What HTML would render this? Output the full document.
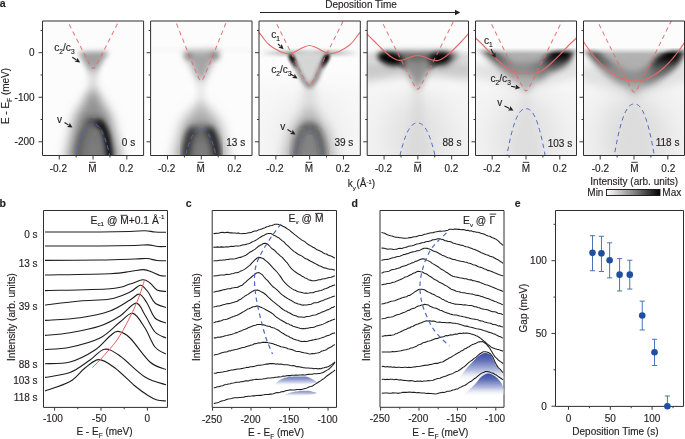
<!DOCTYPE html>
<html><head><meta charset="utf-8"><style>html,body{margin:0;padding:0;background:#fff;width:685px;height:439px;overflow:hidden}svg text{font-family:'Liberation Sans',sans-serif;stroke:#231f20;stroke-width:0.15px} svg{will-change:transform}</style></head>
<body><svg width="685" height="439" viewBox="0 0 685 439" style="display:block;font-family:'Liberation Sans',sans-serif"><defs><linearGradient id="hz" x1="0" y1="0" x2="0" y2="1"><stop offset="0" stop-color="#f2f2f2" stop-opacity="0"/><stop offset="0.3" stop-color="#f2f2f2"/><stop offset="1" stop-color="#efefef"/></linearGradient><clipPath id="clipa0"><rect x="42.5" y="21.0" width="101.2" height="134.5"/></clipPath><filter id="bl0" x="-50%" y="-50%" width="200%" height="200%"><feGaussianBlur stdDeviation="2.8"/></filter><filter id="bl1" x="-50%" y="-50%" width="200%" height="200%"><feGaussianBlur stdDeviation="3.5"/></filter><filter id="bl2" x="-50%" y="-50%" width="200%" height="200%"><feGaussianBlur stdDeviation="5.5"/></filter><filter id="bl3" x="-50%" y="-50%" width="200%" height="200%"><feGaussianBlur stdDeviation="3"/></filter><filter id="bl4" x="-50%" y="-50%" width="200%" height="200%"><feGaussianBlur stdDeviation="2.6"/></filter><filter id="bl5" x="-50%" y="-50%" width="200%" height="200%"><feGaussianBlur stdDeviation="2.5"/></filter><filter id="bl6" x="-50%" y="-50%" width="200%" height="200%"><feGaussianBlur stdDeviation="4"/></filter><clipPath id="clipa1"><rect x="150.5" y="21.0" width="101.2" height="134.5"/></clipPath><filter id="bl7" x="-50%" y="-50%" width="200%" height="200%"><feGaussianBlur stdDeviation="1.8"/></filter><filter id="bl8" x="-50%" y="-50%" width="200%" height="200%"><feGaussianBlur stdDeviation="6"/></filter><clipPath id="clipa2"><rect x="258.7" y="21.0" width="101.2" height="134.5"/></clipPath><filter id="bl9" x="-50%" y="-50%" width="200%" height="200%"><feGaussianBlur stdDeviation="12"/></filter><linearGradient id="g3b" gradientUnits="userSpaceOnUse" x1="258" y1="0" x2="361" y2="0"><stop offset="0" stop-color="#fff"/><stop offset="0.3" stop-color="#999"/><stop offset="0.5" stop-color="#ccc"/><stop offset="0.7" stop-color="#999"/><stop offset="1" stop-color="#fff"/></linearGradient><filter id="bl10" x="-50%" y="-50%" width="200%" height="200%"><feGaussianBlur stdDeviation="2"/></filter><filter id="bl11" x="-50%" y="-50%" width="200%" height="200%"><feGaussianBlur stdDeviation="1.7"/></filter><clipPath id="clipa3"><rect x="367.0" y="21.0" width="101.2" height="134.5"/></clipPath><filter id="bl12" x="-50%" y="-50%" width="200%" height="200%"><feGaussianBlur stdDeviation="5"/></filter><filter id="bl13" x="-50%" y="-50%" width="200%" height="200%"><feGaussianBlur stdDeviation="2.2"/></filter><clipPath id="clipa4"><rect x="475.4" y="21.0" width="101.2" height="134.5"/></clipPath><linearGradient id="fm" x1="0" y1="0" x2="0" y2="1" gradientUnits="userSpaceOnUse" gradientTransform="scale(1,1)"><stop offset="0" stop-color="#000"/></linearGradient><linearGradient id="fedge" gradientUnits="userSpaceOnUse" x1="0" y1="47.6" x2="0" y2="54"><stop offset="0" stop-color="#000"/><stop offset="1" stop-color="#fff"/></linearGradient><mask id="fmask" maskUnits="userSpaceOnUse" x="0" y="0" width="685" height="200"><rect x="0" y="0" width="685" height="200" fill="url(#fedge)"/></mask><linearGradient id="g5" gradientUnits="userSpaceOnUse" x1="475" y1="0" x2="577" y2="0"><stop offset="0" stop-color="#4a4a4a"/><stop offset="0.25" stop-color="#505050"/><stop offset="0.5" stop-color="#505050"/><stop offset="0.68" stop-color="#1a1a1a"/><stop offset="0.8" stop-color="#000"/><stop offset="1" stop-color="#111"/></linearGradient><linearGradient id="pk" x1="0" y1="0" x2="0" y2="1"><stop offset="0" stop-color="#d0d0d0"/><stop offset="1" stop-color="#929292"/></linearGradient><filter id="bl14" x="-50%" y="-50%" width="200%" height="200%"><feGaussianBlur stdDeviation="3.4"/></filter><clipPath id="clipa5"><rect x="583.5" y="21.0" width="101.2" height="134.5"/></clipPath><linearGradient id="g6" gradientUnits="userSpaceOnUse" x1="583" y1="0" x2="685" y2="0"><stop offset="0" stop-color="#4a4a4a"/><stop offset="0.3" stop-color="#505050"/><stop offset="0.55" stop-color="#505050"/><stop offset="0.7" stop-color="#1a1a1a"/><stop offset="0.82" stop-color="#000"/><stop offset="1" stop-color="#111"/></linearGradient><linearGradient id="cbar" x1="0" x2="1" y1="0" y2="0"><stop offset="0" stop-color="#fff"/><stop offset="0.5" stop-color="#888"/><stop offset="1" stop-color="#000"/></linearGradient><linearGradient id="bfill" x1="0" y1="0" x2="0" y2="1"><stop offset="0" stop-color="#3c4ea5"/><stop offset="0.25" stop-color="#5d6db5"/><stop offset="0.6" stop-color="#b4bcdf"/><stop offset="1" stop-color="#ffffff" stop-opacity="0"/></linearGradient><filter id="bl15" x="-50%" y="-50%" width="200%" height="200%"><feGaussianBlur stdDeviation="0.6"/></filter><clipPath id="eclip"><rect x="555.5" y="210.5" width="128" height="195.9"/></clipPath></defs><g clip-path="url(#clipa0)"><rect x="42.5" y="21.0" width="101.2" height="134.5" fill="#fcfcfc"/><path d="M78.00,52.00 C80.50,51.92 88.00,51.50 93.00,51.50 C98.00,51.50 106.33,50.42 108.00,52.00 C109.67,53.58 105.00,57.67 103.00,61.00 C101.00,64.33 98.17,70.17 96.00,72.00 C93.83,73.83 92.17,73.83 90.00,72.00 C87.83,70.17 85.00,64.33 83.00,61.00 C81.00,57.67 78.83,53.50 78.00,52.00Z" fill="#969696" fill-opacity="0.9" filter="url(#bl0)" /><path d="M88.00,68.00 L98.00,68.00 L96.00,84.00 L100.00,100.00 L86.00,100.00 L90.00,84.00Z" fill="#cfcfcf" fill-opacity="0.9" filter="url(#bl1)" /><path d="M90.00,92.00 L96.00,92.00 L111.00,116.00 L122.00,162.00 L65.00,162.00 L75.00,116.00Z" fill="#7c7c7c" fill-opacity="0.85" filter="url(#bl2)" /><path d="M76.00,160.00 C76.50,156.67 77.33,145.50 79.00,140.00 C80.67,134.50 83.67,129.83 86.00,127.00 C88.33,124.17 90.67,123.00 93.00,123.00 C95.33,123.00 97.67,124.17 100.00,127.00 C102.33,129.83 105.33,134.50 107.00,140.00 C108.67,145.50 109.50,156.67 110.00,160.00Z" fill="#757575" fill-opacity="0.95" filter="url(#bl3)" /><ellipse cx="94.0" cy="121" rx="11" ry="5" fill="#555" fill-opacity="0.55" filter="url(#bl3)" transform="rotate(0 94.0 121)"/><path d="M97.00,122.00 C98.00,122.83 101.42,124.67 103.00,127.00 C104.58,129.33 105.58,132.67 106.50,136.00 C107.42,139.33 107.92,143.00 108.50,147.00 C109.08,151.00 109.75,157.83 110.00,160.00" fill="none" stroke="#000" stroke-width="6.5" stroke-opacity="0.95" filter="url(#bl4)"/><path d="M91.00,121.00 C92.00,121.17 95.17,121.17 97.00,122.00 C98.83,122.83 101.17,125.33 102.00,126.00" fill="none" stroke="#222" stroke-width="4" stroke-opacity="0.6" filter="url(#bl5)"/><path d="M94.00,121.00 C92.83,121.67 89.00,122.83 87.00,125.00 C85.00,127.17 83.33,130.50 82.00,134.00 C80.67,137.50 79.83,141.67 79.00,146.00 C78.17,150.33 77.33,157.67 77.00,160.00" fill="none" stroke="#3a3a3a" stroke-width="5.5" stroke-opacity="0.6" filter="url(#bl3)"/><ellipse cx="94.0" cy="150" rx="6" ry="8" fill="#8a8a8a" fill-opacity="0.5" filter="url(#bl6)" transform="rotate(0 94.0 150)"/></g><g clip-path="url(#clipa0)"><path d="M65.55,17.04 L66.47,18.86 L67.39,20.69 L68.32,22.52 L69.24,24.34 L70.16,26.17 L71.08,27.99 L72.00,29.82 L72.92,31.64 L73.85,33.46 L74.77,35.29 L75.69,37.11 L76.61,38.93 L77.53,40.75 L78.45,42.57 L79.38,44.38 L80.30,46.20 L81.22,48.01 L82.14,49.82 L83.06,51.62 L83.98,53.42 L84.91,55.22 L85.83,57.00 L86.75,58.77 L87.67,60.52 L88.59,62.25 L89.51,63.93 L90.44,65.52 L91.36,66.96 L92.28,68.06 L93.20,68.50 L94.12,68.06 L95.04,66.96 L95.97,65.52 L96.89,63.93 L97.81,62.25 L98.73,60.52 L99.65,58.77 L100.57,57.00 L101.50,55.22 L102.42,53.42 L103.34,51.62 L104.26,49.82 L105.18,48.01 L106.10,46.20 L107.03,44.38 L107.95,42.57 L108.87,40.75 L109.79,38.93 L110.71,37.11 L111.63,35.29 L112.56,33.46 L113.48,31.64 L114.40,29.82 L115.32,27.99 L116.24,26.17 L117.16,24.34 L118.09,22.52 L119.01,20.69 L119.93,18.86 L120.85,17.04" fill="none" stroke="#e36c6a" stroke-width="1.05" stroke-dasharray="4.5 3.6" stroke-linejoin="round" stroke-opacity="0.9"/><path d="M74.52,163.22 L75.26,159.71 L76.00,156.38 L76.74,153.23 L77.48,150.26 L78.22,147.48 L78.96,144.86 L79.69,142.42 L80.43,140.15 L81.17,138.05 L81.91,136.11 L82.65,134.34 L83.39,132.72 L84.13,131.25 L84.87,129.94 L85.61,128.77 L86.35,127.74 L87.09,126.85 L87.83,126.10 L88.56,125.47 L89.30,124.97 L90.04,124.58 L90.78,124.30 L91.52,124.12 L92.26,124.02 L93.00,124.00 L93.74,124.02 L94.48,124.12 L95.22,124.30 L95.96,124.58 L96.70,124.97 L97.44,125.47 L98.17,126.10 L98.91,126.85 L99.65,127.74 L100.39,128.77 L101.13,129.94 L101.87,131.25 L102.61,132.72 L103.35,134.34 L104.09,136.11 L104.83,138.05 L105.57,140.15 L106.31,142.42 L107.04,144.86 L107.78,147.48 L108.52,150.26 L109.26,153.23 L110.00,156.38 L110.74,159.71 L111.48,163.22" fill="none" stroke="#5069bd" stroke-width="1.0" stroke-dasharray="4.5 3.6"/></g><g clip-path="url(#clipa1)"><rect x="150.5" y="21.0" width="101.2" height="134.5" fill="#fcfcfc"/><rect x="150.5" y="48.5" width="101.2" height="4" fill="#e4e4e4" opacity="0.15" filter="url(#bl7)"/><path d="M184.00,51.00 C186.83,50.92 195.17,50.50 201.00,50.50 C206.83,50.50 217.00,49.08 219.00,51.00 C221.00,52.92 215.50,57.17 213.00,62.00 C210.50,66.83 206.00,76.33 204.00,80.00 C202.00,83.67 202.00,84.00 201.00,84.00 C200.00,84.00 200.00,83.67 198.00,80.00 C196.00,76.33 191.33,66.83 189.00,62.00 C186.67,57.17 184.83,52.83 184.00,51.00Z" fill="#8e8e8e" fill-opacity="0.8" filter="url(#bl1)" /><ellipse cx="188.0" cy="56" rx="4.5" ry="4" fill="#555" fill-opacity="0.45" filter="url(#bl5)" transform="rotate(0 188.0 56)"/><ellipse cx="215.0" cy="56" rx="4.5" ry="4" fill="#555" fill-opacity="0.5" filter="url(#bl5)" transform="rotate(0 215.0 56)"/><path d="M198.00,80.00 L204.00,80.00 L205.00,110.00 L197.00,110.00Z" fill="#e4e4e4" fill-opacity="0.9" filter="url(#bl3)" /><path d="M198.00,104.00 L204.00,104.00 L220.00,122.00 L230.00,162.00 L172.00,162.00 L182.00,122.00Z" fill="#a0a0a0" fill-opacity="0.85" filter="url(#bl8)" /><path d="M184.00,160.00 C184.50,156.67 185.50,145.33 187.00,140.00 C188.50,134.67 190.67,130.67 193.00,128.00 C195.33,125.33 198.33,124.00 201.00,124.00 C203.67,124.00 206.67,125.33 209.00,128.00 C211.33,130.67 213.50,134.67 215.00,140.00 C216.50,145.33 217.50,156.67 218.00,160.00Z" fill="#555" fill-opacity="0.9" filter="url(#bl6)" /><path d="M191.00,160.00 C191.33,157.50 192.00,149.00 193.00,145.00 C194.00,141.00 195.67,137.83 197.00,136.00 C198.33,134.17 199.67,134.00 201.00,134.00 C202.33,134.00 203.67,134.17 205.00,136.00 C206.33,137.83 208.00,141.00 209.00,145.00 C210.00,149.00 210.67,157.50 211.00,160.00Z" fill="#7a7a7a" fill-opacity="0.8" filter="url(#bl1)" /><path d="M208.00,128.00 C208.67,128.83 210.83,130.83 212.00,133.00 C213.17,135.17 214.25,138.17 215.00,141.00 C215.75,143.83 216.00,146.83 216.50,150.00 C217.00,153.17 217.75,158.33 218.00,160.00" fill="none" stroke="#000" stroke-width="6.5" stroke-opacity="0.9" filter="url(#bl3)"/><path d="M194.00,128.00 C193.33,128.83 191.08,130.83 190.00,133.00 C188.92,135.17 188.17,138.17 187.50,141.00 C186.83,143.83 186.42,146.83 186.00,150.00 C185.58,153.17 185.17,158.33 185.00,160.00" fill="none" stroke="#000" stroke-width="6" stroke-opacity="0.75" filter="url(#bl3)"/><ellipse cx="202.0" cy="152" rx="7" ry="8" fill="#8a8a8a" fill-opacity="0.5" filter="url(#bl6)" transform="rotate(0 202.0 152)"/></g><g clip-path="url(#clipa1)"><path d="M173.45,15.99 L174.37,18.30 L175.29,20.61 L176.21,22.91 L177.14,25.22 L178.06,27.53 L178.98,29.83 L179.90,32.14 L180.82,34.44 L181.75,36.74 L182.67,39.05 L183.59,41.35 L184.51,43.65 L185.43,45.94 L186.35,48.24 L187.28,50.54 L188.20,52.83 L189.12,55.12 L190.04,57.40 L190.96,59.68 L191.88,61.95 L192.81,64.22 L193.73,66.47 L194.65,68.71 L195.57,70.92 L196.49,73.10 L197.41,75.22 L198.33,77.24 L199.26,79.05 L200.18,80.44 L201.10,81.00 L202.02,80.44 L202.94,79.05 L203.87,77.24 L204.79,75.22 L205.71,73.10 L206.63,70.92 L207.55,68.71 L208.47,66.47 L209.39,64.22 L210.32,61.95 L211.24,59.68 L212.16,57.40 L213.08,55.12 L214.00,52.83 L214.93,50.54 L215.85,48.24 L216.77,45.94 L217.69,43.65 L218.61,41.35 L219.53,39.05 L220.45,36.74 L221.38,34.44 L222.30,32.14 L223.22,29.83 L224.14,27.53 L225.06,25.22 L225.99,22.91 L226.91,20.61 L227.83,18.30 L228.75,15.99" fill="none" stroke="#e36c6a" stroke-width="1.05" stroke-dasharray="4.5 3.6" stroke-linejoin="round" stroke-opacity="0.9"/><path d="M184.07,162.07 L184.74,159.08 L185.42,156.25 L186.09,153.57 L186.76,151.04 L187.44,148.67 L188.11,146.45 L188.78,144.37 L189.46,142.44 L190.13,140.66 L190.80,139.01 L191.48,137.49 L192.15,136.12 L192.82,134.87 L193.49,133.75 L194.17,132.76 L194.84,131.88 L195.51,131.13 L196.19,130.49 L196.86,129.95 L197.53,129.52 L198.21,129.19 L198.88,128.95 L199.55,128.80 L200.23,128.72 L200.90,128.70 L201.57,128.72 L202.25,128.80 L202.92,128.95 L203.59,129.19 L204.27,129.52 L204.94,129.95 L205.61,130.49 L206.29,131.13 L206.96,131.88 L207.63,132.76 L208.31,133.75 L208.98,134.87 L209.65,136.12 L210.32,137.49 L211.00,139.01 L211.67,140.66 L212.34,142.44 L213.02,144.37 L213.69,146.45 L214.36,148.67 L215.04,151.04 L215.71,153.57 L216.38,156.25 L217.06,159.08 L217.73,162.07" fill="none" stroke="#5069bd" stroke-width="1.0" stroke-dasharray="4.5 3.6"/></g><g clip-path="url(#clipa2)"><rect x="258.7" y="21.0" width="101.2" height="134.5" fill="#fcfcfc"/><rect x="258.7" y="70" width="101.2" height="85.5" fill="url(#hz)" opacity="0.5"/><ellipse cx="309.3" cy="135" rx="34" ry="40" fill="#e4e4e4" fill-opacity="0.5" filter="url(#bl9)" transform="rotate(0 309.3 135)"/><rect x="253.7" y="50.5" width="111.2" height="5" fill="url(#g3b)" opacity="0.75" filter="url(#bl7)"/><path d="M291.30,52.00 L327.30,52.00 L309.30,90.00Z" fill="#cfcfcf" fill-opacity="0.85" filter="url(#bl3)" /><path d="M291.30,56.00 C292.13,57.67 294.30,62.00 296.30,66.00 C298.30,70.00 301.13,76.33 303.30,80.00 C305.47,83.67 308.30,86.67 309.30,88.00" fill="none" stroke="#333" stroke-width="3.2" stroke-opacity="0.75" filter="url(#bl10)"/><path d="M326.30,56.00 C325.47,57.67 323.13,62.00 321.30,66.00 C319.47,70.00 317.30,76.33 315.30,80.00 C313.30,83.67 310.30,86.67 309.30,88.00" fill="none" stroke="#2a2a2a" stroke-width="3.2" stroke-opacity="0.8" filter="url(#bl10)"/><ellipse cx="292.0" cy="58.5" rx="2.5" ry="5" fill="#000" fill-opacity="0.95" filter="url(#bl11)" transform="rotate(-28 292.0 58.5)"/><ellipse cx="326.3" cy="58.5" rx="2.7" ry="5.2" fill="#000" fill-opacity="1" filter="url(#bl11)" transform="rotate(28 326.3 58.5)"/><ellipse cx="294.3" cy="64" rx="2" ry="4" fill="#333" fill-opacity="0.7" filter="url(#bl7)" transform="rotate(-28 294.3 64)"/><ellipse cx="323.8" cy="64" rx="2" ry="4" fill="#222" fill-opacity="0.75" filter="url(#bl7)" transform="rotate(28 323.8 64)"/><path d="M303.30,86.00 L315.30,86.00 L317.30,118.00 L301.30,118.00Z" fill="#d8d8d8" fill-opacity="0.8" filter="url(#bl6)" /><path d="M305.30,110.00 L313.30,110.00 L328.30,130.00 L336.30,162.00 L282.30,162.00 L290.30,130.00Z" fill="#a8a8a8" fill-opacity="0.85" filter="url(#bl8)" /><path d="M294.30,160.00 C294.80,156.67 295.80,145.33 297.30,140.00 C298.80,134.67 301.30,130.50 303.30,128.00 C305.30,125.50 307.30,125.00 309.30,125.00 C311.30,125.00 313.30,125.50 315.30,128.00 C317.30,130.50 319.80,134.67 321.30,140.00 C322.80,145.33 323.80,156.67 324.30,160.00Z" fill="#7a7a7a" fill-opacity="0.85" filter="url(#bl6)" /><ellipse cx="309.3" cy="126.5" rx="8" ry="4.5" fill="#444" fill-opacity="0.6" filter="url(#bl3)" transform="rotate(0 309.3 126.5)"/><path d="M314.30,128.00 C314.97,128.83 317.13,130.67 318.30,133.00 C319.47,135.33 320.55,139.17 321.30,142.00 C322.05,144.83 322.30,147.00 322.80,150.00 C323.30,153.00 324.05,158.33 324.30,160.00" fill="none" stroke="#1a1a1a" stroke-width="5" stroke-opacity="0.65" filter="url(#bl3)"/><path d="M304.30,128.00 C303.63,128.83 301.47,130.67 300.30,133.00 C299.13,135.33 298.05,139.17 297.30,142.00 C296.55,144.83 296.30,147.00 295.80,150.00 C295.30,153.00 294.55,158.33 294.30,160.00" fill="none" stroke="#1a1a1a" stroke-width="5" stroke-opacity="0.6" filter="url(#bl3)"/><ellipse cx="309.3" cy="152" rx="5" ry="7" fill="#8a8a8a" fill-opacity="0.4" filter="url(#bl6)" transform="rotate(0 309.3 152)"/></g><g clip-path="url(#clipa2)"><path d="M273.20,17.00 L274.40,19.40 L275.60,21.80 L276.80,24.20 L278.00,26.60 L279.20,29.00 L280.40,31.40 L281.60,33.80 L282.80,36.20 L284.00,38.60 L285.20,40.99 L286.40,43.39 L287.60,45.79 L288.80,48.18 L290.00,50.57 L291.20,52.97 L292.40,55.36 L293.60,57.75 L294.80,60.13 L296.00,62.52 L297.20,64.90 L298.40,67.27 L299.60,69.64 L300.80,72.00 L302.00,74.34 L303.20,76.66 L304.40,78.94 L305.60,81.14 L306.80,83.20 L308.00,84.87 L309.20,85.60 L310.40,84.87 L311.60,83.20 L312.80,81.14 L314.00,78.94 L315.20,76.66 L316.40,74.34 L317.60,72.00 L318.80,69.64 L320.00,67.27 L321.20,64.90 L322.40,62.52 L323.60,60.13 L324.80,57.75 L326.00,55.36 L327.20,52.97 L328.40,50.57 L329.60,48.18 L330.80,45.79 L332.00,43.39 L333.20,40.99 L334.40,38.60 L335.60,36.20 L336.80,33.80 L338.00,31.40 L339.20,29.00 L340.40,26.60 L341.60,24.20 L342.80,21.80 L344.00,19.40 L345.20,17.00" fill="none" stroke="#e36c6a" stroke-width="1.05" stroke-dasharray="4.5 3.6" stroke-linejoin="round" stroke-opacity="0.9"/><path d="M256.50,29.00 C257.00,29.70 258.58,32.02 259.50,33.20 C260.42,34.38 261.00,34.80 262.00,36.10 C263.00,37.40 264.17,39.43 265.50,41.00 C266.83,42.57 268.42,44.20 270.00,45.50 C271.58,46.80 273.33,47.80 275.00,48.80 C276.67,49.80 278.42,50.80 280.00,51.50 C281.58,52.20 283.08,52.63 284.50,53.00 C285.92,53.37 287.17,53.70 288.50,53.70 C289.83,53.70 291.00,53.53 292.50,53.00 C294.00,52.47 295.67,51.45 297.50,50.50 C299.33,49.55 301.50,48.13 303.50,47.30 C305.50,46.47 307.50,45.50 309.50,45.50 C311.50,45.50 313.50,46.47 315.50,47.30 C317.50,48.13 319.67,49.55 321.50,50.50 C323.33,51.45 325.00,52.47 326.50,53.00 C328.00,53.53 329.17,53.70 330.50,53.70 C331.83,53.70 333.08,53.37 334.50,53.00 C335.92,52.63 337.42,52.20 339.00,51.50 C340.58,50.80 342.33,49.80 344.00,48.80 C345.67,47.80 347.42,46.80 349.00,45.50 C350.58,44.20 352.17,42.57 353.50,41.00 C354.83,39.43 356.00,37.40 357.00,36.10 C358.00,34.80 358.58,34.38 359.50,33.20 C360.42,32.02 362.00,29.70 362.50,29.00" fill="none" stroke="#e36c6a" stroke-width="1.1"/><path d="M293.49,160.94 L294.11,158.46 L294.73,156.12 L295.35,153.90 L295.97,151.81 L296.59,149.84 L297.21,148.00 L297.83,146.28 L298.45,144.68 L299.07,143.20 L299.69,141.84 L300.31,140.58 L300.93,139.44 L301.56,138.41 L302.18,137.48 L302.80,136.66 L303.42,135.94 L304.04,135.31 L304.66,134.78 L305.28,134.34 L305.90,133.98 L306.52,133.71 L307.14,133.51 L307.76,133.38 L308.38,133.32 L309.00,133.30 L309.62,133.32 L310.24,133.38 L310.86,133.51 L311.48,133.71 L312.10,133.98 L312.72,134.34 L313.34,134.78 L313.96,135.31 L314.58,135.94 L315.20,136.66 L315.82,137.48 L316.44,138.41 L317.07,139.44 L317.69,140.58 L318.31,141.84 L318.93,143.20 L319.55,144.68 L320.17,146.28 L320.79,148.00 L321.41,149.84 L322.03,151.81 L322.65,153.90 L323.27,156.12 L323.89,158.46 L324.51,160.94" fill="none" stroke="#5069bd" stroke-width="1.0" stroke-dasharray="4.5 3.6"/></g><g clip-path="url(#clipa3)"><rect x="367.0" y="21.0" width="101.2" height="134.5" fill="#fcfcfc"/><rect x="367.0" y="70" width="101.2" height="85.5" fill="url(#hz)" opacity="0.8"/><ellipse cx="417.6" cy="135" rx="34" ry="40" fill="#e0e0e0" fill-opacity="0.8" filter="url(#bl9)" transform="rotate(0 417.6 135)"/><rect x="357.0" y="52" width="121.2" height="8" fill="#c4c4c4" opacity="0.5" filter="url(#bl5)"/><path d="M362.00,60.00 L397.60,60.00 L417.60,66.00 L437.60,60.00 L473.20,60.00 L473.20,80.00 L417.60,74.00 L362.00,82.00Z" fill="#b4b4b4" fill-opacity="0.7" filter="url(#bl12)" /><path d="M375.60,54.00 C379.27,53.58 390.60,51.92 397.60,51.50 C404.60,51.08 410.93,51.50 417.60,51.50 C424.27,51.50 430.93,51.08 437.60,51.50 C444.27,51.92 456.27,51.58 457.60,54.00 C458.93,56.42 450.60,64.33 445.60,66.00 C440.60,67.67 432.27,63.67 427.60,64.00 C422.93,64.33 420.93,68.00 417.60,68.00 C414.27,68.00 412.27,64.33 407.60,64.00 C402.93,63.67 394.93,67.67 389.60,66.00 C384.27,64.33 377.93,56.00 375.60,54.00Z" fill="#5a5a5a" fill-opacity="0.9" filter="url(#bl3)" /><ellipse cx="390.6" cy="58.3" rx="12.5" ry="5.8" fill="#000" fill-opacity="1" filter="url(#bl0)" transform="rotate(12 390.6 58.3)"/><ellipse cx="439.1" cy="58.3" rx="11.5" ry="5.8" fill="#000" fill-opacity="1" filter="url(#bl0)" transform="rotate(-10 439.1 58.3)"/><ellipse cx="403.1" cy="64" rx="5.5" ry="3" fill="#111" fill-opacity="0.8" filter="url(#bl13)" transform="rotate(38 403.1 64)"/><ellipse cx="431.6" cy="64" rx="5.5" ry="3" fill="#111" fill-opacity="0.8" filter="url(#bl13)" transform="rotate(-38 431.6 64)"/><path d="M400.60,60.00 L434.60,60.00 L417.60,92.00Z" fill="#858585" fill-opacity="0.85" filter="url(#bl1)" /><path d="M414.60,92.00 L420.60,92.00 L431.60,160.00 L403.60,160.00Z" fill="#d8d8d8" fill-opacity="0.8" filter="url(#bl6)" /></g><g clip-path="url(#clipa3)"><path d="M379.50,17.03 L380.77,19.55 L382.04,22.07 L383.31,24.59 L384.58,27.12 L385.85,29.64 L387.12,32.16 L388.39,34.68 L389.66,37.20 L390.93,39.72 L392.20,42.24 L393.47,44.76 L394.74,47.28 L396.01,49.80 L397.28,52.31 L398.55,54.83 L399.82,57.34 L401.09,59.85 L402.36,62.36 L403.63,64.87 L404.90,67.37 L406.17,69.87 L407.44,72.36 L408.71,74.84 L409.98,77.31 L411.25,79.75 L412.52,82.16 L413.79,84.50 L415.06,86.69 L416.33,88.50 L417.60,89.30 L418.87,88.50 L420.14,86.69 L421.41,84.50 L422.68,82.16 L423.95,79.75 L425.22,77.31 L426.49,74.84 L427.76,72.36 L429.03,69.87 L430.30,67.37 L431.57,64.87 L432.84,62.36 L434.11,59.85 L435.38,57.34 L436.65,54.83 L437.92,52.31 L439.19,49.80 L440.46,47.28 L441.73,44.76 L443.00,42.24 L444.27,39.72 L445.54,37.20 L446.81,34.68 L448.08,32.16 L449.35,29.64 L450.62,27.12 L451.89,24.59 L453.16,22.07 L454.43,19.55 L455.70,17.03" fill="none" stroke="#e36c6a" stroke-width="1.05" stroke-dasharray="4.5 3.6" stroke-linejoin="round" stroke-opacity="0.9"/><path d="M366.00,33.00 C367.33,34.33 371.33,38.33 374.00,41.00 C376.67,43.67 379.33,46.50 382.00,49.00 C384.67,51.50 387.50,54.17 390.00,56.00 C392.50,57.83 394.83,59.33 397.00,60.00 C399.17,60.67 400.83,60.45 403.00,60.00 C405.17,59.55 407.57,58.05 410.00,57.30 C412.43,56.55 415.10,55.50 417.60,55.50 C420.10,55.50 422.60,56.55 425.00,57.30 C427.40,58.05 429.83,59.47 432.00,60.00 C434.17,60.53 435.83,61.00 438.00,60.50 C440.17,60.00 442.50,58.75 445.00,57.00 C447.50,55.25 450.33,52.50 453.00,50.00 C455.67,47.50 458.33,44.83 461.00,42.00 C463.67,39.17 467.67,34.50 469.00,33.00" fill="none" stroke="#e36c6a" stroke-width="1.1"/><path d="M398.25,163.47 L399.02,159.84 L399.79,156.40 L400.56,153.16 L401.33,150.10 L402.10,147.22 L402.87,144.53 L403.64,142.01 L404.41,139.67 L405.18,137.50 L405.95,135.50 L406.72,133.66 L407.49,131.99 L408.26,130.48 L409.03,129.12 L409.80,127.92 L410.57,126.86 L411.34,125.94 L412.11,125.17 L412.88,124.52 L413.65,124.00 L414.42,123.60 L415.19,123.31 L415.96,123.12 L416.73,123.02 L417.50,123.00 L418.27,123.02 L419.04,123.12 L419.81,123.31 L420.58,123.60 L421.35,124.00 L422.12,124.52 L422.89,125.17 L423.66,125.94 L424.43,126.86 L425.20,127.92 L425.97,129.12 L426.74,130.48 L427.51,131.99 L428.28,133.66 L429.05,135.50 L429.82,137.50 L430.59,139.67 L431.36,142.01 L432.13,144.53 L432.90,147.22 L433.67,150.10 L434.44,153.16 L435.21,156.40 L435.98,159.84 L436.75,163.47" fill="none" stroke="#5069bd" stroke-width="1.0" stroke-dasharray="4.5 3.6"/></g><g clip-path="url(#clipa4)"><rect x="475.4" y="21.0" width="101.2" height="134.5" fill="#fcfcfc"/><rect x="475.4" y="70" width="101.2" height="85.5" fill="url(#hz)" opacity="0.8"/><ellipse cx="526.0" cy="135" rx="34" ry="40" fill="#e0e0e0" fill-opacity="0.8" filter="url(#bl9)" transform="rotate(0 526.0 135)"/><g mask="url(#fmask)"><path d="M466.00,45.00 L466.00,26.86 L468.00,29.27 L470.00,31.66 L472.00,34.02 L474.00,36.35 L476.00,38.65 L478.00,40.92 L480.00,43.16 L482.00,45.36 L484.00,47.54 L486.00,49.67 L488.00,51.77 L490.00,53.83 L492.00,55.85 L494.00,57.82 L496.00,59.74 L498.00,61.61 L500.00,63.42 L502.00,65.17 L504.00,66.85 L506.00,68.44 L508.00,69.94 L510.00,71.32 L512.00,72.52 L514.00,73.40 L516.00,73.40 L518.00,73.40 L520.00,73.40 L522.00,73.40 L524.00,73.40 L526.00,73.40 L528.00,73.40 L530.00,73.40 L532.00,73.40 L534.00,73.40 L536.00,73.40 L538.00,73.40 L540.00,72.52 L542.00,71.32 L544.00,69.94 L546.00,68.44 L548.00,66.85 L550.00,65.17 L552.00,63.42 L554.00,61.61 L556.00,59.74 L558.00,57.82 L560.00,55.85 L562.00,53.83 L564.00,51.77 L566.00,49.67 L568.00,47.54 L570.00,45.36 L572.00,43.16 L574.00,40.92 L576.00,38.65 L578.00,36.35 L580.00,34.02 L582.00,31.66 L584.00,29.27 L586.00,26.86 L586.00,45.00Z" fill="url(#pk)" fill-opacity="0.95" filter="url(#bl5)" /><path d="M466.00,17.86 L468.00,20.27 L470.00,22.66 L472.00,25.02 L474.00,27.35 L476.00,29.65 L478.00,31.92 L480.00,34.16 L482.00,36.36 L484.00,38.54 L486.00,40.67 L488.00,42.77 L490.00,44.83 L492.00,46.85 L494.00,48.82 L496.00,50.74 L498.00,52.61 L500.00,54.42 L502.00,56.17 L504.00,57.85 L506.00,59.44 L508.00,60.94 L510.00,62.32 L512.00,63.52 L514.00,64.40 L516.00,64.40 L518.00,64.40 L520.00,64.40 L522.00,64.40 L524.00,64.40 L526.00,64.40 L528.00,64.24 L530.00,64.08 L532.00,63.92 L534.00,63.76 L536.00,63.60 L538.00,63.44 L540.00,62.40 L542.00,61.04 L544.00,59.50 L546.00,57.84 L548.00,56.09 L550.00,54.25 L552.00,52.34 L554.00,50.37 L556.00,48.34 L558.00,46.26 L560.00,44.13 L562.00,41.95 L564.00,39.73 L566.00,37.47 L568.00,35.18 L570.00,32.84 L572.00,30.48 L574.00,28.08 L576.00,25.65 L578.00,23.19 L580.00,20.70 L582.00,18.18 L584.00,15.63 L586.00,13.06 L586.00,37.66 L584.00,39.91 L582.00,42.14 L580.00,44.34 L578.00,46.51 L576.00,48.65 L574.00,50.76 L572.00,52.84 L570.00,54.88 L568.00,56.90 L566.00,58.87 L564.00,60.81 L562.00,62.71 L560.00,64.57 L558.00,66.38 L556.00,68.14 L554.00,69.85 L552.00,71.50 L550.00,73.09 L548.00,74.61 L546.00,76.04 L544.00,77.38 L542.00,78.60 L540.00,79.64 L538.00,80.36 L536.00,80.20 L534.00,80.04 L532.00,79.88 L530.00,79.72 L528.00,79.56 L526.00,79.40 L524.00,79.40 L522.00,79.40 L520.00,79.40 L518.00,79.40 L516.00,79.40 L514.00,79.40 L512.00,78.52 L510.00,77.32 L508.00,75.94 L506.00,74.44 L504.00,72.85 L502.00,71.17 L500.00,69.42 L498.00,67.61 L496.00,65.74 L494.00,63.82 L492.00,61.85 L490.00,59.83 L488.00,57.77 L486.00,55.67 L484.00,53.54 L482.00,51.36 L480.00,49.16 L478.00,46.92 L476.00,44.65 L474.00,42.35 L472.00,40.02 L470.00,37.66 L468.00,35.27 L466.00,32.86Z" fill="url(#g5)" fill-opacity="0.92" filter="url(#bl3)" /><ellipse cx="559" cy="60" rx="14" ry="8.5" fill="#000" fill-opacity="1" filter="url(#bl14)" transform="rotate(-30 559 60)"/></g><path d="M470.40,64.00 L581.60,60.00 L581.60,76.00 L526.00,90.00 L470.40,76.00Z" fill="#c8c8c8" fill-opacity="0.5" filter="url(#bl12)" /><path d="M512.00,76.00 L540.00,76.00 L526.00,94.00Z" fill="#a8a8a8" fill-opacity="0.8" filter="url(#bl3)" /><path d="M523.00,94.00 L529.00,94.00 L542.00,160.00 L510.00,160.00Z" fill="#dcdcdc" fill-opacity="0.8" filter="url(#bl6)" /></g><g clip-path="url(#clipa4)"><path d="M488.00,16.92 L489.27,19.50 L490.53,22.09 L491.80,24.67 L493.07,27.26 L494.33,29.85 L495.60,32.43 L496.87,35.01 L498.13,37.60 L499.40,40.18 L500.67,42.77 L501.93,45.35 L503.20,47.93 L504.47,50.51 L505.73,53.09 L507.00,55.67 L508.27,58.24 L509.53,60.82 L510.80,63.39 L512.07,65.96 L513.33,68.53 L514.60,71.09 L515.87,73.64 L517.13,76.19 L518.40,78.71 L519.67,81.22 L520.93,83.69 L522.20,86.08 L523.47,88.33 L524.73,90.18 L526.00,91.00 L527.27,90.18 L528.53,88.33 L529.80,86.08 L531.07,83.69 L532.33,81.22 L533.60,78.71 L534.87,76.19 L536.13,73.64 L537.40,71.09 L538.67,68.53 L539.93,65.96 L541.20,63.39 L542.47,60.82 L543.73,58.24 L545.00,55.67 L546.27,53.09 L547.53,50.51 L548.80,47.93 L550.07,45.35 L551.33,42.77 L552.60,40.18 L553.87,37.60 L555.13,35.01 L556.40,32.43 L557.67,29.85 L558.93,27.26 L560.20,24.67 L561.47,22.09 L562.73,19.50 L564.00,16.92" fill="none" stroke="#e36c6a" stroke-width="1.05" stroke-dasharray="4.5 3.6" stroke-linejoin="round" stroke-opacity="0.9"/><path d="M475.00,37.50 C476.33,38.75 480.33,42.33 483.00,45.00 C485.67,47.67 488.33,50.75 491.00,53.50 C493.67,56.25 496.33,59.00 499.00,61.50 C501.67,64.00 504.50,66.67 507.00,68.50 C509.50,70.33 511.83,71.70 514.00,72.50 C516.17,73.30 518.00,73.15 520.00,73.30 C522.00,73.45 524.00,73.40 526.00,73.40 C528.00,73.40 530.00,73.45 532.00,73.30 C534.00,73.15 535.83,73.30 538.00,72.50 C540.17,71.70 542.50,70.33 545.00,68.50 C547.50,66.67 550.33,64.00 553.00,61.50 C555.67,59.00 558.33,56.25 561.00,53.50 C563.67,50.75 566.33,47.67 569.00,45.00 C571.67,42.33 575.67,38.75 577.00,37.50" fill="none" stroke="#e36c6a" stroke-width="1.1"/><path d="M504.99,166.97 L505.83,161.75 L506.67,156.80 L507.51,152.13 L508.35,147.72 L509.19,143.58 L510.03,139.70 L510.87,136.07 L511.71,132.70 L512.55,129.58 L513.39,126.70 L514.23,124.06 L515.07,121.65 L515.92,119.47 L516.76,117.52 L517.60,115.78 L518.44,114.26 L519.28,112.94 L520.12,111.82 L520.96,110.89 L521.80,110.14 L522.64,109.56 L523.48,109.14 L524.32,108.87 L525.16,108.74 L526.00,108.70 L526.84,108.74 L527.68,108.87 L528.52,109.14 L529.36,109.56 L530.20,110.14 L531.04,110.89 L531.88,111.82 L532.72,112.94 L533.56,114.26 L534.40,115.78 L535.24,117.52 L536.08,119.47 L536.93,121.65 L537.77,124.06 L538.61,126.70 L539.45,129.58 L540.29,132.70 L541.13,136.07 L541.97,139.70 L542.81,143.58 L543.65,147.72 L544.49,152.13 L545.33,156.80 L546.17,161.75 L547.01,166.97" fill="none" stroke="#5069bd" stroke-width="1.0" stroke-dasharray="4.5 3.6"/></g><g clip-path="url(#clipa5)"><rect x="583.5" y="21.0" width="101.2" height="134.5" fill="#fcfcfc"/><rect x="583.5" y="70" width="101.2" height="85.5" fill="url(#hz)" opacity="0.9"/><ellipse cx="634.1" cy="135" rx="34" ry="40" fill="#dcdcdc" fill-opacity="0.9" filter="url(#bl9)" transform="rotate(0 634.1 135)"/><g mask="url(#fmask)"><path d="M574.00,45.00 L574.00,25.48 L576.00,29.10 L578.00,32.60 L580.00,35.98 L582.00,39.23 L584.00,42.37 L586.00,45.38 L588.00,48.27 L590.00,51.03 L592.00,53.68 L594.00,56.20 L596.00,58.60 L598.00,60.88 L600.00,63.03 L602.00,65.07 L604.00,66.98 L606.00,68.77 L608.00,70.44 L610.00,71.98 L612.00,73.41 L614.00,74.71 L616.00,75.89 L618.00,76.94 L620.00,77.88 L622.00,78.69 L624.00,79.38 L626.00,79.95 L628.00,80.39 L630.00,80.72 L632.00,80.92 L634.00,81.00 L636.00,80.96 L638.00,80.79 L640.00,80.50 L642.00,80.09 L644.00,79.56 L646.00,78.91 L648.00,78.13 L650.00,77.24 L652.00,76.22 L654.00,75.07 L656.00,73.81 L658.00,72.42 L660.00,70.91 L662.00,69.28 L664.00,67.53 L666.00,65.66 L668.00,63.66 L670.00,61.54 L672.00,59.30 L674.00,56.93 L676.00,54.45 L678.00,51.84 L680.00,49.11 L682.00,46.26 L684.00,43.28 L686.00,40.18 L688.00,36.97 L690.00,33.62 L692.00,30.16 L694.00,45.00Z" fill="url(#pk)" fill-opacity="0.95" filter="url(#bl5)" /><path d="M574.00,15.48 L576.00,19.10 L578.00,22.60 L580.00,25.98 L582.00,29.23 L584.00,32.37 L586.00,35.38 L588.00,38.27 L590.00,41.03 L592.00,43.68 L594.00,46.20 L596.00,48.60 L598.00,50.88 L600.00,53.03 L602.00,55.07 L604.00,56.98 L606.00,58.77 L608.00,60.44 L610.00,61.98 L612.00,63.41 L614.00,64.71 L616.00,65.89 L618.00,66.94 L620.00,67.88 L622.00,68.69 L624.00,69.38 L626.00,69.95 L628.00,70.39 L630.00,70.72 L632.00,70.92 L634.00,71.00 L636.00,70.80 L638.00,70.47 L640.00,70.02 L642.00,69.45 L644.00,68.76 L646.00,67.95 L648.00,67.01 L650.00,65.96 L652.00,64.78 L654.00,63.47 L656.00,62.05 L658.00,60.50 L660.00,58.83 L662.00,57.04 L664.00,55.13 L666.00,53.10 L668.00,50.94 L670.00,48.66 L672.00,46.26 L674.00,43.73 L676.00,41.09 L678.00,38.32 L680.00,35.43 L682.00,32.42 L684.00,29.28 L686.00,26.02 L688.00,22.65 L690.00,19.14 L692.00,15.52 L692.00,40.80 L690.00,44.10 L688.00,47.29 L686.00,50.34 L684.00,53.28 L682.00,56.10 L680.00,58.79 L678.00,61.36 L676.00,63.81 L674.00,66.13 L672.00,68.34 L670.00,70.42 L668.00,72.38 L666.00,74.22 L664.00,75.93 L662.00,77.52 L660.00,78.99 L658.00,80.34 L656.00,81.57 L654.00,82.67 L652.00,83.66 L650.00,84.52 L648.00,85.25 L646.00,85.87 L644.00,86.36 L642.00,86.73 L640.00,86.98 L638.00,87.11 L636.00,87.12 L634.00,87.00 L632.00,86.92 L630.00,86.72 L628.00,86.39 L626.00,85.95 L624.00,85.38 L622.00,84.69 L620.00,83.88 L618.00,82.94 L616.00,81.89 L614.00,80.71 L612.00,79.41 L610.00,77.98 L608.00,76.44 L606.00,74.77 L604.00,72.98 L602.00,71.07 L600.00,69.03 L598.00,66.88 L596.00,64.60 L594.00,62.20 L592.00,59.68 L590.00,57.03 L588.00,54.27 L586.00,51.38 L584.00,48.37 L582.00,45.23 L580.00,41.98 L578.00,38.60 L576.00,35.10 L574.00,31.48Z" fill="url(#g6)" fill-opacity="0.92" filter="url(#bl3)" /><ellipse cx="666" cy="63" rx="16" ry="9" fill="#000" fill-opacity="1" filter="url(#bl14)" transform="rotate(-32 666 63)"/></g><path d="M578.50,66.00 L689.70,62.00 L689.70,80.00 L634.30,97.00 L578.50,80.00Z" fill="#c8c8c8" fill-opacity="0.5" filter="url(#bl12)" /><path d="M624.30,84.00 L644.30,84.00 L634.30,97.00Z" fill="#aaa" fill-opacity="0.8" filter="url(#bl3)" /><path d="M631.30,96.00 L637.30,96.00 L650.30,160.00 L618.30,160.00Z" fill="#dcdcdc" fill-opacity="0.8" filter="url(#bl6)" /></g><g clip-path="url(#clipa5)"><path d="M595.40,16.94 L596.70,19.57 L597.99,22.20 L599.29,24.84 L600.59,27.47 L601.88,30.10 L603.18,32.73 L604.48,35.36 L605.77,37.99 L607.07,40.61 L608.37,43.24 L609.66,45.87 L610.96,48.50 L612.26,51.12 L613.55,53.75 L614.85,56.37 L616.15,58.99 L617.44,61.62 L618.74,64.23 L620.04,66.85 L621.33,69.46 L622.63,72.07 L623.93,74.67 L625.22,77.26 L626.52,79.83 L627.82,82.39 L629.11,84.90 L630.41,87.35 L631.71,89.64 L633.00,91.55 L634.30,92.40 L635.60,91.55 L636.89,89.64 L638.19,87.35 L639.49,84.90 L640.78,82.39 L642.08,79.83 L643.38,77.26 L644.67,74.67 L645.97,72.07 L647.27,69.46 L648.56,66.85 L649.86,64.23 L651.16,61.62 L652.45,58.99 L653.75,56.37 L655.05,53.75 L656.34,51.12 L657.64,48.50 L658.94,45.87 L660.23,43.24 L661.53,40.61 L662.83,37.99 L664.12,35.36 L665.42,32.73 L666.72,30.10 L668.01,27.47 L669.31,24.84 L670.61,22.20 L671.90,19.57 L673.20,16.94" fill="none" stroke="#e36c6a" stroke-width="1.05" stroke-dasharray="4.5 3.6" stroke-linejoin="round" stroke-opacity="0.9"/><path d="M583.00,40.81 C583.34,41.34 584.37,42.93 585.05,43.96 C585.73,44.99 586.42,46.00 587.10,46.98 C587.78,47.97 588.47,48.93 589.15,49.87 C589.83,50.81 590.52,51.73 591.20,52.63 C591.88,53.53 592.57,54.41 593.25,55.27 C593.93,56.13 594.62,56.96 595.30,57.77 C595.98,58.59 596.67,59.38 597.35,60.15 C598.03,60.92 598.72,61.67 599.40,62.40 C600.08,63.13 600.77,63.84 601.45,64.52 C602.13,65.21 602.82,65.87 603.50,66.51 C604.18,67.16 604.87,67.78 605.55,68.38 C606.23,68.98 606.92,69.56 607.60,70.11 C608.28,70.67 608.97,71.21 609.65,71.72 C610.33,72.24 611.02,72.73 611.70,73.20 C612.38,73.67 613.07,74.12 613.75,74.55 C614.43,74.98 615.12,75.39 615.80,75.77 C616.48,76.16 617.17,76.52 617.85,76.87 C618.53,77.21 619.22,77.53 619.90,77.83 C620.58,78.13 621.27,78.41 621.95,78.67 C622.63,78.93 623.32,79.17 624.00,79.38 C624.68,79.59 625.37,79.79 626.05,79.96 C626.73,80.13 627.42,80.28 628.10,80.41 C628.78,80.54 629.47,80.65 630.15,80.74 C630.83,80.82 631.52,80.89 632.20,80.93 C632.88,80.98 633.57,81.00 634.25,81.00 C634.93,81.00 635.62,80.98 636.30,80.94 C636.98,80.90 637.67,80.83 638.35,80.75 C639.03,80.67 639.72,80.56 640.40,80.43 C641.08,80.30 641.77,80.16 642.45,79.99 C643.13,79.82 643.82,79.62 644.50,79.41 C645.18,79.20 645.87,78.96 646.55,78.71 C647.23,78.45 647.92,78.18 648.60,77.88 C649.28,77.58 649.97,77.26 650.65,76.92 C651.33,76.58 652.02,76.21 652.70,75.83 C653.38,75.45 654.07,75.04 654.75,74.61 C655.43,74.19 656.12,73.74 656.80,73.27 C657.48,72.80 658.17,72.31 658.85,71.80 C659.53,71.28 660.22,70.75 660.90,70.20 C661.58,69.64 662.27,69.06 662.95,68.47 C663.63,67.87 664.32,67.25 665.00,66.61 C665.68,65.97 666.37,65.31 667.05,64.62 C667.73,63.94 668.42,63.23 669.10,62.51 C669.78,61.78 670.47,61.03 671.15,60.26 C671.83,59.50 672.52,58.71 673.20,57.89 C673.88,57.08 674.57,56.25 675.25,55.39 C675.93,54.54 676.62,53.66 677.30,52.77 C677.98,51.87 678.67,50.95 679.35,50.01 C680.03,49.07 680.72,48.11 681.40,47.12 C682.08,46.14 682.77,45.14 683.45,44.11 C684.13,43.09 685.16,41.49 685.50,40.97" fill="none" stroke="#e36c6a" stroke-width="1.1"/><path d="M612.30,168.12 L613.18,162.38 L614.06,156.93 L614.94,151.79 L615.82,146.94 L616.70,142.38 L617.58,138.11 L618.46,134.12 L619.34,130.41 L620.22,126.97 L621.10,123.80 L621.98,120.90 L622.86,118.25 L623.74,115.85 L624.62,113.70 L625.50,111.79 L626.38,110.12 L627.26,108.67 L628.14,107.43 L629.02,106.41 L629.90,105.58 L630.78,104.95 L631.66,104.49 L632.54,104.19 L633.42,104.04 L634.30,104.00 L635.18,104.04 L636.06,104.19 L636.94,104.49 L637.82,104.95 L638.70,105.58 L639.58,106.41 L640.46,107.43 L641.34,108.67 L642.22,110.12 L643.10,111.79 L643.98,113.70 L644.86,115.85 L645.74,118.25 L646.62,120.90 L647.50,123.80 L648.38,126.97 L649.26,130.41 L650.14,134.12 L651.02,138.11 L651.90,142.38 L652.78,146.94 L653.66,151.79 L654.54,156.93 L655.42,162.38 L656.30,168.12" fill="none" stroke="#5069bd" stroke-width="1.0" stroke-dasharray="4.5 3.6"/></g><text x="54.2" y="50.6" font-size="10.2" text-anchor="start" font-weight="normal" fill="#231f20" >c<tspan font-size="6.6" dy="3">2</tspan><tspan dy="-3">/c</tspan><tspan font-size="6.6" dy="3">3</tspan></text><line x1="72.3" y1="57.3" x2="76.44119814411042" y2="60.02585194295875" stroke="#231f20" stroke-width="1.1" /><path d="M80.20,62.50 L74.65,61.84 L76.86,60.30 L77.40,57.66 Z" fill="#231f20"/><text x="57.0" y="122.5" font-size="10" text-anchor="start" font-weight="normal" fill="#231f20" >v</text><line x1="64.5" y1="122.5" x2="68.6840076319771" y2="125.11500476998569" stroke="#231f20" stroke-width="1.1" /><path d="M72.50,127.50 L66.94,126.97 L69.11,125.38 L69.59,122.73 Z" fill="#231f20"/><text x="271.2" y="38.2" font-size="10.2" text-anchor="start" font-weight="normal" fill="#231f20" >c<tspan font-size="6.6" dy="3">1</tspan></text><line x1="278" y1="43.8" x2="280.36070067060695" y2="46.076389932370965" stroke="#231f20" stroke-width="1.1" /><path d="M283.60,49.20 L278.27,47.53 L280.72,46.42 L281.74,43.93 Z" fill="#231f20"/><text x="271.2" y="73.2" font-size="10.2" text-anchor="start" font-weight="normal" fill="#231f20" >c<tspan font-size="6.6" dy="3">2</tspan><tspan dy="-3">/c</tspan><tspan font-size="6.6" dy="3">3</tspan></text><line x1="290.2" y1="73.8" x2="293.77821603619935" y2="76.02429645493471" stroke="#231f20" stroke-width="1.1" /><path d="M297.60,78.40 L292.03,77.88 L294.20,76.29 L294.67,73.64 Z" fill="#231f20"/><text x="280.3" y="129.5" font-size="10" text-anchor="start" font-weight="normal" fill="#231f20" >v</text><line x1="287.5" y1="129.5" x2="291.68400763197707" y2="132.1150047699857" stroke="#231f20" stroke-width="1.1" /><path d="M295.50,134.50 L289.94,133.97 L292.11,132.38 L292.59,129.73 Z" fill="#231f20"/><text x="484" y="44" font-size="10.2" text-anchor="start" font-weight="normal" fill="#231f20" >c<tspan font-size="6.6" dy="3">1</tspan></text><line x1="491" y1="49" x2="493.4875388202502" y2="53.97507764050038" stroke="#231f20" stroke-width="1.1" /><path d="M495.50,58.00 L491.03,54.65 L493.71,54.42 L495.50,52.41 Z" fill="#231f20"/><text x="490.5" y="82.2" font-size="10.2" text-anchor="start" font-weight="normal" fill="#231f20" >c<tspan font-size="6.6" dy="3">2</tspan><tspan dy="-3">/c</tspan><tspan font-size="6.6" dy="3">3</tspan></text><line x1="511" y1="86.2" x2="515.7837330531299" y2="87.13594777126455" stroke="#231f20" stroke-width="1.1" /><path d="M520.20,88.00 L514.81,89.49 L516.27,87.23 L515.77,84.59 Z" fill="#231f20"/><text x="497.3" y="106" font-size="10" text-anchor="start" font-weight="normal" fill="#231f20" >v</text><line x1="504.5" y1="106" x2="509.47507764050033" y2="108.4875388202502" stroke="#231f20" stroke-width="1.1" /><path d="M513.50,110.50 L507.91,110.50 L509.92,108.71 L510.15,106.03 Z" fill="#231f20"/><path d="M42.5,21.0 H143.6 V155.5 H42.5 Z" fill="none" stroke="#2e2e2e" stroke-width="1.0"/><line x1="40.5" y1="30.425000000000004" x2="42.5" y2="30.425000000000004" stroke="#3a3a3a" stroke-width="1" /><line x1="38.5" y1="52.7" x2="42.5" y2="52.7" stroke="#3a3a3a" stroke-width="1" /><line x1="40.5" y1="74.975" x2="42.5" y2="74.975" stroke="#3a3a3a" stroke-width="1" /><line x1="38.5" y1="97.25" x2="42.5" y2="97.25" stroke="#3a3a3a" stroke-width="1" /><line x1="40.5" y1="119.525" x2="42.5" y2="119.525" stroke="#3a3a3a" stroke-width="1" /><line x1="38.5" y1="141.8" x2="42.5" y2="141.8" stroke="#3a3a3a" stroke-width="1" /><line x1="59.24999999999999" y1="155.5" x2="59.24999999999999" y2="159.5" stroke="#3a3a3a" stroke-width="1" /><line x1="76.14999999999999" y1="155.5" x2="76.14999999999999" y2="157.5" stroke="#3a3a3a" stroke-width="1" /><line x1="93.05" y1="155.5" x2="93.05" y2="159.5" stroke="#3a3a3a" stroke-width="1" /><line x1="109.95" y1="155.5" x2="109.95" y2="157.5" stroke="#3a3a3a" stroke-width="1" /><line x1="126.85" y1="155.5" x2="126.85" y2="159.5" stroke="#3a3a3a" stroke-width="1" /><text x="58.35" y="171.5" font-size="10" text-anchor="middle" font-weight="normal" fill="#231f20" >-0.2</text><text x="92.45" y="171.5" font-size="10" text-anchor="middle" font-weight="normal" fill="#231f20" >M</text><line x1="89.25" y1="162.3" x2="95.65" y2="162.3" stroke="#231f20" stroke-width="0.9" /><text x="126.25" y="171.5" font-size="10" text-anchor="middle" font-weight="normal" fill="#231f20" >0.2</text><path d="M150.6,21.0 H252.0 V155.5 H150.6 Z" fill="none" stroke="#2e2e2e" stroke-width="1.0"/><line x1="148.6" y1="30.425000000000004" x2="150.6" y2="30.425000000000004" stroke="#3a3a3a" stroke-width="1" /><line x1="146.6" y1="52.7" x2="150.6" y2="52.7" stroke="#3a3a3a" stroke-width="1" /><line x1="148.6" y1="74.975" x2="150.6" y2="74.975" stroke="#3a3a3a" stroke-width="1" /><line x1="146.6" y1="97.25" x2="150.6" y2="97.25" stroke="#3a3a3a" stroke-width="1" /><line x1="148.6" y1="119.525" x2="150.6" y2="119.525" stroke="#3a3a3a" stroke-width="1" /><line x1="146.6" y1="141.8" x2="150.6" y2="141.8" stroke="#3a3a3a" stroke-width="1" /><line x1="167.5" y1="155.5" x2="167.5" y2="159.5" stroke="#3a3a3a" stroke-width="1" /><line x1="184.4" y1="155.5" x2="184.4" y2="157.5" stroke="#3a3a3a" stroke-width="1" /><line x1="201.3" y1="155.5" x2="201.3" y2="159.5" stroke="#3a3a3a" stroke-width="1" /><line x1="218.20000000000002" y1="155.5" x2="218.20000000000002" y2="157.5" stroke="#3a3a3a" stroke-width="1" /><line x1="235.10000000000002" y1="155.5" x2="235.10000000000002" y2="159.5" stroke="#3a3a3a" stroke-width="1" /><text x="166.6" y="171.5" font-size="10" text-anchor="middle" font-weight="normal" fill="#231f20" >-0.2</text><text x="200.70000000000002" y="171.5" font-size="10" text-anchor="middle" font-weight="normal" fill="#231f20" >M</text><line x1="197.50000000000003" y1="162.3" x2="203.9" y2="162.3" stroke="#231f20" stroke-width="0.9" /><text x="234.50000000000003" y="171.5" font-size="10" text-anchor="middle" font-weight="normal" fill="#231f20" >0.2</text><path d="M259.0,21.0 H360.3 V155.5 H259.0 Z" fill="none" stroke="#2e2e2e" stroke-width="1.0"/><line x1="257.0" y1="30.425000000000004" x2="259.0" y2="30.425000000000004" stroke="#3a3a3a" stroke-width="1" /><line x1="255.0" y1="52.7" x2="259.0" y2="52.7" stroke="#3a3a3a" stroke-width="1" /><line x1="257.0" y1="74.975" x2="259.0" y2="74.975" stroke="#3a3a3a" stroke-width="1" /><line x1="255.0" y1="97.25" x2="259.0" y2="97.25" stroke="#3a3a3a" stroke-width="1" /><line x1="257.0" y1="119.525" x2="259.0" y2="119.525" stroke="#3a3a3a" stroke-width="1" /><line x1="255.0" y1="141.8" x2="259.0" y2="141.8" stroke="#3a3a3a" stroke-width="1" /><line x1="275.84999999999997" y1="155.5" x2="275.84999999999997" y2="159.5" stroke="#3a3a3a" stroke-width="1" /><line x1="292.75" y1="155.5" x2="292.75" y2="157.5" stroke="#3a3a3a" stroke-width="1" /><line x1="309.65" y1="155.5" x2="309.65" y2="159.5" stroke="#3a3a3a" stroke-width="1" /><line x1="326.54999999999995" y1="155.5" x2="326.54999999999995" y2="157.5" stroke="#3a3a3a" stroke-width="1" /><line x1="343.45" y1="155.5" x2="343.45" y2="159.5" stroke="#3a3a3a" stroke-width="1" /><text x="274.84999999999997" y="171.5" font-size="10" text-anchor="middle" font-weight="normal" fill="#231f20" >-0.2</text><text x="308.95" y="171.5" font-size="10" text-anchor="middle" font-weight="normal" fill="#231f20" >M</text><line x1="305.75" y1="162.3" x2="312.15" y2="162.3" stroke="#231f20" stroke-width="0.9" /><text x="342.75" y="171.5" font-size="10" text-anchor="middle" font-weight="normal" fill="#231f20" >0.2</text><path d="M367.2,21.0 H468.5 V155.5 H367.2 Z" fill="none" stroke="#2e2e2e" stroke-width="1.0"/><line x1="365.2" y1="30.425000000000004" x2="367.2" y2="30.425000000000004" stroke="#3a3a3a" stroke-width="1" /><line x1="363.2" y1="52.7" x2="367.2" y2="52.7" stroke="#3a3a3a" stroke-width="1" /><line x1="365.2" y1="74.975" x2="367.2" y2="74.975" stroke="#3a3a3a" stroke-width="1" /><line x1="363.2" y1="97.25" x2="367.2" y2="97.25" stroke="#3a3a3a" stroke-width="1" /><line x1="365.2" y1="119.525" x2="367.2" y2="119.525" stroke="#3a3a3a" stroke-width="1" /><line x1="363.2" y1="141.8" x2="367.2" y2="141.8" stroke="#3a3a3a" stroke-width="1" /><line x1="384.05" y1="155.5" x2="384.05" y2="159.5" stroke="#3a3a3a" stroke-width="1" /><line x1="400.95000000000005" y1="155.5" x2="400.95000000000005" y2="157.5" stroke="#3a3a3a" stroke-width="1" /><line x1="417.85" y1="155.5" x2="417.85" y2="159.5" stroke="#3a3a3a" stroke-width="1" /><line x1="434.75" y1="155.5" x2="434.75" y2="157.5" stroke="#3a3a3a" stroke-width="1" /><line x1="451.65000000000003" y1="155.5" x2="451.65000000000003" y2="159.5" stroke="#3a3a3a" stroke-width="1" /><text x="383.55" y="171.5" font-size="10" text-anchor="middle" font-weight="normal" fill="#231f20" >-0.2</text><text x="417.65000000000003" y="171.5" font-size="10" text-anchor="middle" font-weight="normal" fill="#231f20" >M</text><line x1="414.45000000000005" y1="162.3" x2="420.85" y2="162.3" stroke="#231f20" stroke-width="0.9" /><text x="451.45000000000005" y="171.5" font-size="10" text-anchor="middle" font-weight="normal" fill="#231f20" >0.2</text><path d="M475.5,21.0 H576.5 V155.5 H475.5 Z" fill="none" stroke="#2e2e2e" stroke-width="1.0"/><line x1="473.5" y1="30.425000000000004" x2="475.5" y2="30.425000000000004" stroke="#3a3a3a" stroke-width="1" /><line x1="471.5" y1="52.7" x2="475.5" y2="52.7" stroke="#3a3a3a" stroke-width="1" /><line x1="473.5" y1="74.975" x2="475.5" y2="74.975" stroke="#3a3a3a" stroke-width="1" /><line x1="471.5" y1="97.25" x2="475.5" y2="97.25" stroke="#3a3a3a" stroke-width="1" /><line x1="473.5" y1="119.525" x2="475.5" y2="119.525" stroke="#3a3a3a" stroke-width="1" /><line x1="471.5" y1="141.8" x2="475.5" y2="141.8" stroke="#3a3a3a" stroke-width="1" /><line x1="492.2" y1="155.5" x2="492.2" y2="159.5" stroke="#3a3a3a" stroke-width="1" /><line x1="509.1" y1="155.5" x2="509.1" y2="157.5" stroke="#3a3a3a" stroke-width="1" /><line x1="526.0" y1="155.5" x2="526.0" y2="159.5" stroke="#3a3a3a" stroke-width="1" /><line x1="542.9" y1="155.5" x2="542.9" y2="157.5" stroke="#3a3a3a" stroke-width="1" /><line x1="559.8" y1="155.5" x2="559.8" y2="159.5" stroke="#3a3a3a" stroke-width="1" /><text x="491.9" y="171.5" font-size="10" text-anchor="middle" font-weight="normal" fill="#231f20" >-0.2</text><text x="526.0" y="171.5" font-size="10" text-anchor="middle" font-weight="normal" fill="#231f20" >M</text><line x1="522.8" y1="162.3" x2="529.2" y2="162.3" stroke="#231f20" stroke-width="0.9" /><text x="559.8" y="171.5" font-size="10" text-anchor="middle" font-weight="normal" fill="#231f20" >0.2</text><path d="M583.5,21.0 H684.5 V155.5 H583.5 Z" fill="none" stroke="#2e2e2e" stroke-width="1.0"/><line x1="581.5" y1="30.425000000000004" x2="583.5" y2="30.425000000000004" stroke="#3a3a3a" stroke-width="1" /><line x1="579.5" y1="52.7" x2="583.5" y2="52.7" stroke="#3a3a3a" stroke-width="1" /><line x1="581.5" y1="74.975" x2="583.5" y2="74.975" stroke="#3a3a3a" stroke-width="1" /><line x1="579.5" y1="97.25" x2="583.5" y2="97.25" stroke="#3a3a3a" stroke-width="1" /><line x1="581.5" y1="119.525" x2="583.5" y2="119.525" stroke="#3a3a3a" stroke-width="1" /><line x1="579.5" y1="141.8" x2="583.5" y2="141.8" stroke="#3a3a3a" stroke-width="1" /><line x1="600.2" y1="155.5" x2="600.2" y2="159.5" stroke="#3a3a3a" stroke-width="1" /><line x1="617.1" y1="155.5" x2="617.1" y2="157.5" stroke="#3a3a3a" stroke-width="1" /><line x1="634.0" y1="155.5" x2="634.0" y2="159.5" stroke="#3a3a3a" stroke-width="1" /><line x1="650.9" y1="155.5" x2="650.9" y2="157.5" stroke="#3a3a3a" stroke-width="1" /><line x1="667.8" y1="155.5" x2="667.8" y2="159.5" stroke="#3a3a3a" stroke-width="1" /><text x="600.4000000000001" y="171.5" font-size="10" text-anchor="middle" font-weight="normal" fill="#231f20" >-0.2</text><text x="634.5" y="171.5" font-size="10" text-anchor="middle" font-weight="normal" fill="#231f20" >M</text><line x1="631.3" y1="162.3" x2="637.7" y2="162.3" stroke="#231f20" stroke-width="0.9" /><text x="668.3" y="171.5" font-size="10" text-anchor="middle" font-weight="normal" fill="#231f20" >0.2</text><text x="34.6" y="56.2" font-size="10" text-anchor="end" font-weight="normal" fill="#231f20" >0</text><text x="34.6" y="100.75" font-size="10" text-anchor="end" font-weight="normal" fill="#231f20" >-100</text><text x="34.6" y="145.3" font-size="10" text-anchor="end" font-weight="normal" fill="#231f20" >-200</text><text x="0" y="0" font-size="10" text-anchor="middle" font-weight="normal" fill="#231f20" transform="translate(8.6,96) rotate(-90)">E - E<tspan font-size="6.5" dy="3">F</tspan><tspan dy="-3"> (meV)</tspan></text><text x="135.2" y="145.9" font-size="10" text-anchor="end" font-weight="normal" fill="#231f20" >0 s</text><text x="245.2" y="145.9" font-size="10" text-anchor="end" font-weight="normal" fill="#231f20" >13 s</text><text x="353.3" y="145.9" font-size="10" text-anchor="end" font-weight="normal" fill="#231f20" >39 s</text><text x="461.4" y="145.9" font-size="10" text-anchor="end" font-weight="normal" fill="#231f20" >88 s</text><text x="572.2" y="147.3" font-size="10" text-anchor="end" font-weight="normal" fill="#231f20" >103 s</text><text x="679.4" y="145.9" font-size="10" text-anchor="end" font-weight="normal" fill="#231f20" >118 s</text><text x="-0.2" y="7.4" font-size="10.5" text-anchor="start" font-weight="bold" fill="#231f20" >a</text><text x="325.2" y="7.6" font-size="10" text-anchor="start" font-weight="normal" fill="#231f20" >Deposition Time</text><line x1="260" y1="12.5" x2="456" y2="12.5" stroke="#2a2020" stroke-width="1.1" /><path d="M455,9.8 L460.3,12.5 L455,15.2 Z" fill="#2a2020"/><text x="347.8" y="187.2" font-size="10" text-anchor="start" font-weight="normal" fill="#231f20" >k<tspan font-size="6.2" dy="2.8">y</tspan><tspan dy="-2.8" dx="0.6">(Å</tspan><tspan font-size="5.8" dy="-3.6">-1</tspan><tspan dy="3.6">)</tspan></text><text x="590.3" y="184.6" font-size="10" text-anchor="start" font-weight="normal" fill="#231f20" >Intensity (arb. units)</text><text x="587.3" y="196.3" font-size="10" text-anchor="start" font-weight="normal" fill="#231f20" >Min</text><rect x="606.5" y="189.5" width="53.5" height="6" fill="url(#cbar)" stroke="#111" stroke-width="0.9"/><text x="662.3" y="196.3" font-size="10" text-anchor="start" font-weight="normal" fill="#231f20" >Max</text><text x="-0.5" y="207.0" font-size="10.5" text-anchor="start" font-weight="bold" fill="#231f20" >b</text><path d="M43.5,210.5 H167.5 V407.4 H43.5 Z" fill="none" stroke="#2e2e2e" stroke-width="1.0"/><line x1="54.599999999999994" y1="407.4" x2="54.599999999999994" y2="410.59999999999997" stroke="#3a3a3a" stroke-width="1" /><line x1="77.8" y1="407.4" x2="77.8" y2="409.2" stroke="#3a3a3a" stroke-width="1" /><line x1="101.0" y1="407.4" x2="101.0" y2="410.59999999999997" stroke="#3a3a3a" stroke-width="1" /><line x1="124.2" y1="407.4" x2="124.2" y2="409.2" stroke="#3a3a3a" stroke-width="1" /><line x1="147.4" y1="407.4" x2="147.4" y2="410.59999999999997" stroke="#3a3a3a" stroke-width="1" /><text x="52.89999999999999" y="421.7" font-size="10" text-anchor="middle" font-weight="normal" fill="#231f20" >-100</text><text x="99.3" y="421.7" font-size="10" text-anchor="middle" font-weight="normal" fill="#231f20" >-50</text><text x="147.4" y="421.7" font-size="10" text-anchor="middle" font-weight="normal" fill="#231f20" >0</text><text x="104.5" y="435" font-size="10" text-anchor="middle" font-weight="normal" fill="#231f20" >E - E<tspan font-size="6.5" dy="3">F</tspan><tspan dy="-3"> (meV)</tspan></text><text x="0" y="0" font-size="10" text-anchor="middle" font-weight="normal" fill="#231f20" transform="translate(15.3,317) rotate(-90)">Intensity (arb. units)</text><text x="37.6" y="238.3" font-size="10" text-anchor="end" font-weight="normal" fill="#231f20" >0 s</text><text x="37.6" y="266.9" font-size="10" text-anchor="end" font-weight="normal" fill="#231f20" >13 s</text><text x="37.6" y="310.1" font-size="10" text-anchor="end" font-weight="normal" fill="#231f20" >39 s</text><text x="37.6" y="368.3" font-size="10" text-anchor="end" font-weight="normal" fill="#231f20" >88 s</text><text x="37.6" y="384.4" font-size="10" text-anchor="end" font-weight="normal" fill="#231f20" >103 s</text><text x="37.6" y="401.0" font-size="10" text-anchor="end" font-weight="normal" fill="#231f20" >118 s</text><text x="90.6" y="223.9" font-size="10.3" text-anchor="start" font-weight="normal" fill="#231f20" >E<tspan font-size="6.2" dy="2.4">c1</tspan><tspan dy="-2.4"> @ </tspan></text><text x="120.2" y="223.9" font-size="10.3" text-anchor="start" font-weight="normal" fill="#231f20" >M+0.1 Å<tspan font-size="6.2" dy="-4.5">-1</tspan></text><line x1="120.6" y1="215.3" x2="127.3" y2="215.3" stroke="#231f20" stroke-width="0.9" /><path d="M45.00,232.00 C54.17,232.00 85.83,232.08 100.00,232.00 C114.17,231.92 122.50,231.72 130.00,231.50 C137.50,231.28 140.83,230.62 145.00,230.70 C149.17,230.78 151.50,231.73 155.00,232.00 C158.50,232.27 164.17,232.25 166.00,232.30" fill="none" stroke="#1e1e1e" stroke-width="1.1"/><path d="M45.00,246.00 C54.17,246.00 85.00,246.08 100.00,246.00 C115.00,245.92 127.00,245.68 135.00,245.50 C143.00,245.32 144.17,244.73 148.00,244.90 C151.83,245.07 155.00,246.23 158.00,246.50 C161.00,246.77 164.67,246.50 166.00,246.50" fill="none" stroke="#1e1e1e" stroke-width="1.1"/><path d="M45.00,260.40 C54.17,260.33 85.00,260.23 100.00,260.00 C115.00,259.77 127.17,259.25 135.00,259.00 C142.83,258.75 143.33,258.25 147.00,258.50 C150.67,258.75 153.83,260.12 157.00,260.50 C160.17,260.88 164.50,260.75 166.00,260.80" fill="none" stroke="#1e1e1e" stroke-width="1.1"/><path d="M45.00,275.00 C55.83,274.78 95.83,274.28 110.00,273.70 C124.17,273.12 124.42,272.18 130.00,271.50 C135.58,270.82 139.83,269.52 143.50,269.60 C147.17,269.68 149.25,271.02 152.00,272.00 C154.75,272.98 157.67,274.83 160.00,275.50 C162.33,276.17 165.00,275.92 166.00,276.00" fill="none" stroke="#1e1e1e" stroke-width="1.1"/><path d="M45.00,290.60 C55.83,290.28 95.83,289.80 110.00,288.70 C124.17,287.60 124.53,285.48 130.00,284.00 C135.47,282.52 139.47,279.97 142.80,279.80 C146.13,279.63 147.63,281.30 150.00,283.00 C152.37,284.70 154.33,288.58 157.00,290.00 C159.67,291.42 164.50,291.25 166.00,291.50" fill="none" stroke="#1e1e1e" stroke-width="1.1"/><path d="M45.00,305.00 C50.83,304.33 69.17,302.00 80.00,301.00 C90.83,300.00 101.67,300.50 110.00,299.00 C118.33,297.50 124.93,294.28 130.00,292.00 C135.07,289.72 137.40,285.30 140.40,285.30 C143.40,285.30 145.57,289.05 148.00,292.00 C150.43,294.95 152.00,300.42 155.00,303.00 C158.00,305.58 164.17,306.75 166.00,307.50" fill="none" stroke="#1e1e1e" stroke-width="1.1"/><path d="M45.00,320.40 C50.83,319.95 69.17,319.27 80.00,317.70 C90.83,316.13 101.67,313.95 110.00,311.00 C118.33,308.05 125.10,302.80 130.00,300.00 C134.90,297.20 136.57,293.70 139.40,294.20 C142.23,294.70 144.40,299.03 147.00,303.00 C149.60,306.97 151.83,314.68 155.00,318.00 C158.17,321.32 164.17,322.08 166.00,322.90" fill="none" stroke="#1e1e1e" stroke-width="1.1"/><path d="M45.00,335.40 C49.17,334.95 60.83,334.27 70.00,332.70 C79.17,331.13 91.67,328.78 100.00,326.00 C108.33,323.22 114.00,319.82 120.00,316.00 C126.00,312.18 131.83,303.27 136.00,303.10 C140.17,302.93 141.83,310.18 145.00,315.00 C148.17,319.82 151.50,328.17 155.00,332.00 C158.50,335.83 164.17,337.00 166.00,338.00" fill="none" stroke="#1e1e1e" stroke-width="1.1"/><path d="M45.00,349.50 C49.17,349.12 60.83,349.12 70.00,347.20 C79.17,345.28 91.67,342.20 100.00,338.00 C108.33,333.80 114.50,326.10 120.00,322.00 C125.50,317.90 128.83,312.40 133.00,313.40 C137.17,314.40 141.33,322.40 145.00,328.00 C148.67,333.60 151.50,342.67 155.00,347.00 C158.50,351.33 164.17,352.83 166.00,354.00" fill="none" stroke="#1e1e1e" stroke-width="1.1"/><path d="M45.00,363.70 C49.17,363.42 61.67,364.28 70.00,362.00 C78.33,359.72 88.33,354.33 95.00,350.00 C101.67,345.67 106.17,339.10 110.00,336.00 C113.83,332.90 114.67,331.07 118.00,331.40 C121.33,331.73 124.67,332.90 130.00,338.00 C135.33,343.10 144.00,356.73 150.00,362.00 C156.00,367.27 163.33,368.33 166.00,369.60" fill="none" stroke="#1e1e1e" stroke-width="1.1"/><path d="M45.00,377.40 C49.17,376.60 62.50,375.50 70.00,372.60 C77.50,369.70 84.23,363.90 90.00,360.00 C95.77,356.10 99.60,349.87 104.60,349.20 C109.60,348.53 113.27,351.37 120.00,356.00 C126.73,360.63 137.33,372.20 145.00,377.00 C152.67,381.80 162.50,383.50 166.00,384.80" fill="none" stroke="#1e1e1e" stroke-width="1.1"/><path d="M45.00,391.00 C49.17,389.42 63.33,385.33 70.00,381.50 C76.67,377.67 80.17,371.65 85.00,368.00 C89.83,364.35 94.00,359.60 99.00,359.60 C104.00,359.60 109.00,363.60 115.00,368.00 C121.00,372.40 129.50,381.42 135.00,386.00 C140.50,390.58 144.33,393.17 148.00,395.50 C151.67,397.83 154.00,399.08 157.00,400.00 C160.00,400.92 164.50,400.83 166.00,401.00" fill="none" stroke="#1e1e1e" stroke-width="1.1"/><path d="M144.50,280.00 C143.38,283.33 140.47,293.33 137.80,300.00 C135.13,306.67 131.97,313.33 128.50,320.00 C125.03,326.67 121.08,334.08 117.00,340.00 C112.92,345.92 108.08,350.92 104.00,355.50 C99.92,360.08 94.42,365.50 92.50,367.50" fill="none" stroke="#e8605c" stroke-width="1"/><text x="185.8" y="207.0" font-size="10.5" text-anchor="start" font-weight="bold" fill="#231f20" >c</text><path d="M212.2,210.5 H336.5 V407.4 H212.2 Z" fill="none" stroke="#2e2e2e" stroke-width="1.0"/><line x1="212.5" y1="407.4" x2="212.5" y2="410.59999999999997" stroke="#3a3a3a" stroke-width="1" /><line x1="231.75" y1="407.4" x2="231.75" y2="409.2" stroke="#3a3a3a" stroke-width="1" /><line x1="251.0" y1="407.4" x2="251.0" y2="410.59999999999997" stroke="#3a3a3a" stroke-width="1" /><line x1="270.25" y1="407.4" x2="270.25" y2="409.2" stroke="#3a3a3a" stroke-width="1" /><line x1="289.5" y1="407.4" x2="289.5" y2="410.59999999999997" stroke="#3a3a3a" stroke-width="1" /><line x1="308.75" y1="407.4" x2="308.75" y2="409.2" stroke="#3a3a3a" stroke-width="1" /><line x1="328.0" y1="407.4" x2="328.0" y2="410.59999999999997" stroke="#3a3a3a" stroke-width="1" /><text x="212.0" y="422.6" font-size="10" text-anchor="middle" font-weight="normal" fill="#231f20" >-250</text><text x="250.5" y="422.6" font-size="10" text-anchor="middle" font-weight="normal" fill="#231f20" >-200</text><text x="289.0" y="422.6" font-size="10" text-anchor="middle" font-weight="normal" fill="#231f20" >-150</text><text x="327.5" y="422.6" font-size="10" text-anchor="middle" font-weight="normal" fill="#231f20" >-100</text><text x="276" y="435.5" font-size="10" text-anchor="middle" font-weight="normal" fill="#231f20" >E - E<tspan font-size="6.5" dy="3">F</tspan><tspan dy="-3"> (meV)</tspan></text><text x="0" y="0" font-size="10" text-anchor="middle" font-weight="normal" fill="#231f20" transform="translate(200,317) rotate(-90)">Intensity (arb. units)</text><text x="351.6" y="207.0" font-size="10.5" text-anchor="start" font-weight="bold" fill="#231f20" >d</text><path d="M380.0,210.5 H504.0 V407.3 H380.0 Z" fill="none" stroke="#2e2e2e" stroke-width="1.0"/><line x1="380.6" y1="407.4" x2="380.6" y2="410.59999999999997" stroke="#3a3a3a" stroke-width="1" /><line x1="399.8" y1="407.4" x2="399.8" y2="409.2" stroke="#3a3a3a" stroke-width="1" /><line x1="419.0" y1="407.4" x2="419.0" y2="410.59999999999997" stroke="#3a3a3a" stroke-width="1" /><line x1="438.20000000000005" y1="407.4" x2="438.20000000000005" y2="409.2" stroke="#3a3a3a" stroke-width="1" /><line x1="457.40000000000003" y1="407.4" x2="457.40000000000003" y2="410.59999999999997" stroke="#3a3a3a" stroke-width="1" /><line x1="476.6" y1="407.4" x2="476.6" y2="409.2" stroke="#3a3a3a" stroke-width="1" /><line x1="495.8" y1="407.4" x2="495.8" y2="410.59999999999997" stroke="#3a3a3a" stroke-width="1" /><text x="379.8" y="422.2" font-size="10" text-anchor="middle" font-weight="normal" fill="#231f20" >-250</text><text x="418.2" y="422.2" font-size="10" text-anchor="middle" font-weight="normal" fill="#231f20" >-200</text><text x="456.6" y="422.2" font-size="10" text-anchor="middle" font-weight="normal" fill="#231f20" >-150</text><text x="495.0" y="422.2" font-size="10" text-anchor="middle" font-weight="normal" fill="#231f20" >-100</text><text x="440.3" y="435.5" font-size="10" text-anchor="middle" font-weight="normal" fill="#231f20" >E - E<tspan font-size="6.5" dy="3">F</tspan><tspan dy="-3"> (meV)</tspan></text><text x="0" y="0" font-size="10" text-anchor="middle" font-weight="normal" fill="#231f20" transform="translate(370,317) rotate(-90)">Intensity (arb. units)</text><path d="M273.00,385.50 C274.17,384.58 277.67,381.37 280.00,380.00 C282.33,378.63 284.33,377.87 287.00,377.30 C289.67,376.73 293.17,376.72 296.00,376.60 C298.83,376.48 301.83,376.47 304.00,376.60 C306.17,376.73 307.50,376.90 309.00,377.40 C310.50,377.90 311.83,378.67 313.00,379.60 C314.17,380.53 318.17,382.10 316.00,383.00 C313.83,383.90 305.17,384.50 300.00,385.00 C294.83,385.50 287.50,385.83 285.00,386.00Z" fill="url(#bfill)" fill-opacity="0.72" filter="url(#bl15)"/><path d="M281.00,396.50 C282.17,396.00 285.50,394.32 288.00,393.50 C290.50,392.68 293.17,392.05 296.00,391.60 C298.83,391.15 302.50,390.87 305.00,390.80 C307.50,390.73 309.08,390.77 311.00,391.20 C312.92,391.63 317.50,392.68 316.50,393.40 C315.50,394.12 309.08,394.98 305.00,395.50 C300.92,396.02 294.17,396.33 292.00,396.50Z" fill="url(#bfill)" fill-opacity="0.62" filter="url(#bl15)"/><path d="M458.00,380.00 C459.33,378.17 463.67,371.92 466.00,369.00 C468.33,366.08 470.00,364.58 472.00,362.50 C474.00,360.42 476.17,358.00 478.00,356.50 C479.83,355.00 481.50,354.03 483.00,353.50 C484.50,352.97 485.67,352.97 487.00,353.30 C488.33,353.63 489.83,354.22 491.00,355.50 C492.17,356.78 493.00,359.08 494.00,361.00 C495.00,362.92 495.55,364.83 497.00,367.00 C498.45,369.17 501.75,371.67 502.70,374.00 C503.65,376.33 506.48,379.83 502.70,381.00 C498.92,382.17 483.78,381.00 480.00,381.00Z" fill="url(#bfill)" fill-opacity="1.0" filter="url(#bl15)"/><path d="M462.00,396.00 C463.33,394.83 467.67,391.17 470.00,389.00 C472.33,386.83 474.17,385.00 476.00,383.00 C477.83,381.00 479.33,378.50 481.00,377.00 C482.67,375.50 484.50,374.53 486.00,374.00 C487.50,373.47 488.50,373.42 490.00,373.80 C491.50,374.18 493.50,375.27 495.00,376.30 C496.50,377.33 497.72,378.38 499.00,380.00 C500.28,381.62 502.08,383.33 502.70,386.00 C503.32,388.67 506.48,394.33 502.70,396.00 C498.92,397.67 483.78,396.00 480.00,396.00Z" fill="url(#bfill)" fill-opacity="1.0" filter="url(#bl15)"/><path d="M213.50,233.54 L214.50,233.62 L215.78,233.36 L217.32,233.31 L219.04,233.12 L220.90,232.59 L222.85,232.39 L224.83,232.76 L226.80,232.36 L228.27,232.36 L229.84,232.88 L231.49,232.67 L233.19,233.03 L234.92,232.96 L236.66,233.20 L238.38,233.04 L240.06,233.44 L241.67,233.65 L243.19,233.46 L244.60,233.54 L246.60,233.32 L248.41,232.68 L250.07,232.74 L251.65,232.22 L253.20,231.58 L254.76,230.93 L256.40,230.92 L258.11,230.12 L259.86,229.62 L261.61,229.02 L263.36,228.22 L265.06,227.67 L266.72,226.74 L268.30,226.48 L270.04,225.75 L271.70,225.55 L273.29,225.10 L274.84,224.33 L276.37,224.22 L277.90,224.33 L279.63,225.09 L281.23,225.30 L282.85,226.19 L284.65,227.03 L286.80,228.50 L288.19,229.36 L289.69,230.43 L291.30,231.78 L292.97,233.08 L294.70,234.62 L296.45,235.86 L298.20,237.36 L299.92,238.61 L301.60,239.89 L303.22,240.84 L304.82,241.65 L306.39,243.15 L307.97,244.29 L309.56,245.31 L311.19,246.15 L312.86,247.27 L314.59,248.00 L316.40,249.40 L317.88,250.04 L319.50,250.70 L321.22,251.42 L323.01,252.76 L324.82,253.70 L326.62,254.00 L328.38,255.24 L330.04,255.76 L331.57,256.31 L332.93,257.02 L334.09,257.83 L335.00,258.10" fill="none" stroke="#1e1e1e" stroke-width="1.05" stroke-linejoin="round"/><path d="M213.50,247.52 L214.52,246.98 L215.85,247.27 L217.45,246.87 L219.22,247.21 L221.12,246.89 L223.06,247.13 L224.97,247.10 L226.80,246.70 L228.39,246.91 L230.04,246.42 L231.73,246.20 L233.43,246.43 L235.14,245.98 L236.83,245.96 L238.48,245.92 L240.07,245.83 L241.60,245.29 L243.47,244.81 L245.26,244.82 L246.99,243.94 L248.66,243.73 L250.30,243.05 L251.91,242.05 L253.50,241.38 L255.35,240.45 L257.19,239.40 L258.98,238.19 L260.69,237.03 L262.31,236.06 L263.80,235.46 L265.64,234.33 L267.14,233.65 L268.65,233.58 L270.50,233.54 L271.99,234.07 L273.59,235.18 L275.29,235.83 L277.08,236.94 L278.96,237.89 L280.90,239.55 L282.41,240.87 L283.99,241.94 L285.61,243.83 L287.27,245.45 L288.98,246.74 L290.70,248.68 L292.45,250.10 L294.20,251.61 L295.78,252.53 L297.39,253.81 L299.02,254.86 L300.67,255.41 L302.34,256.39 L304.01,257.69 L305.68,258.78 L307.35,259.25 L309.00,260.27 L310.66,261.27 L312.36,262.03 L314.07,262.98 L315.78,263.85 L317.47,264.76 L319.13,265.72 L320.75,266.31 L322.31,267.04 L323.80,267.86 L325.69,268.03 L327.59,268.84 L329.44,269.30 L331.17,269.33 L332.72,269.49 L334.02,270.02 L335.00,270.00" fill="none" stroke="#1e1e1e" stroke-width="1.05" stroke-linejoin="round"/><path d="M213.50,260.94 L214.52,260.80 L215.85,260.82 L217.45,260.81 L219.22,260.27 L221.12,260.19 L223.06,259.98 L224.97,260.05 L226.80,259.56 L228.39,259.60 L230.04,259.00 L231.73,258.91 L233.43,258.90 L235.14,258.81 L236.83,258.28 L238.48,257.82 L240.07,257.36 L241.60,257.12 L243.46,256.14 L245.23,255.58 L246.93,254.56 L248.59,253.07 L250.23,252.00 L251.86,251.22 L253.50,250.09 L255.18,249.10 L256.89,247.62 L258.60,246.25 L260.28,245.19 L261.89,244.51 L263.41,243.49 L264.80,243.21 L266.78,243.59 L268.37,244.78 L269.97,246.50 L272.00,248.75 L273.47,249.50 L275.13,250.79 L276.90,252.84 L278.72,254.38 L280.52,256.05 L282.24,257.31 L283.80,259.17 L285.73,261.35 L287.48,263.20 L289.14,265.77 L290.78,267.94 L292.50,269.70 L293.98,270.94 L295.46,271.97 L296.94,273.04 L298.46,273.93 L300.00,274.75 L301.60,275.95 L303.24,276.70 L304.92,277.94 L306.63,278.36 L308.38,279.65 L310.17,280.13 L312.00,280.65 L313.62,280.75 L315.29,280.69 L316.99,280.30 L318.71,279.67 L320.43,279.76 L322.13,279.05 L323.80,278.78 L325.53,278.62 L327.37,278.08 L329.23,277.51 L331.02,277.32 L332.63,276.65 L333.99,276.09 L335.00,275.90" fill="none" stroke="#1e1e1e" stroke-width="1.05" stroke-linejoin="round"/><path d="M213.50,275.85 L214.49,276.10 L215.79,275.73 L217.33,275.75 L219.06,275.30 L220.91,275.01 L222.82,274.99 L224.73,274.93 L226.57,274.30 L228.28,274.42 L229.80,274.25 L231.75,273.83 L233.60,273.50 L235.35,272.65 L237.02,272.63 L238.61,272.32 L240.13,271.32 L241.60,270.86 L243.50,269.88 L245.20,268.90 L246.80,267.60 L248.37,266.32 L250.00,265.17 L251.70,263.15 L253.43,261.39 L255.15,259.68 L256.82,258.23 L258.40,257.34 L260.12,257.63 L261.64,257.96 L263.27,258.49 L265.30,260.30 L266.74,261.40 L268.35,262.90 L270.08,264.63 L271.87,266.66 L273.66,268.53 L275.39,270.30 L277.00,272.01 L278.74,274.23 L280.39,276.36 L281.99,278.89 L283.57,281.18 L285.17,282.99 L286.80,284.55 L288.47,286.06 L290.16,287.41 L291.86,288.61 L293.56,289.64 L295.28,290.20 L297.00,291.18 L298.47,291.64 L299.94,292.02 L301.41,292.39 L302.89,292.79 L304.39,293.15 L305.92,293.12 L307.50,293.32 L309.09,293.10 L310.69,292.77 L312.31,292.66 L313.97,292.37 L315.69,291.54 L317.49,291.23 L319.40,290.66 L320.88,290.45 L322.53,289.91 L324.30,288.92 L326.12,288.54 L327.94,287.77 L329.71,286.76 L331.35,286.22 L332.82,285.43 L334.06,285.35 L335.00,284.80" fill="none" stroke="#1e1e1e" stroke-width="1.05" stroke-linejoin="round"/><path d="M213.50,292.00 L214.53,291.93 L215.89,291.60 L217.51,291.19 L219.32,290.87 L221.23,290.38 L223.16,289.71 L225.05,289.62 L226.80,288.90 L228.49,288.66 L230.23,288.76 L231.98,288.05 L233.73,287.80 L235.43,287.49 L237.08,287.57 L238.65,286.69 L240.10,286.01 L242.19,285.28 L244.05,283.35 L245.76,282.15 L247.39,280.44 L249.00,279.10 L251.02,277.50 L252.97,275.66 L254.79,274.42 L256.40,273.02 L257.90,272.75 L259.08,272.56 L260.90,273.83 L262.33,274.76 L264.07,276.98 L265.97,279.21 L267.89,280.88 L269.68,283.06 L271.20,284.84 L273.32,287.06 L274.94,288.12 L277.00,289.81 L278.34,291.05 L279.79,292.61 L281.34,294.11 L283.01,295.33 L284.83,296.72 L286.80,298.04 L288.22,298.86 L289.75,299.80 L291.36,300.52 L293.03,301.66 L294.75,302.79 L296.48,303.23 L298.22,304.08 L299.93,304.25 L301.60,304.91 L303.22,305.12 L304.82,305.10 L306.39,304.90 L307.97,304.67 L309.56,304.46 L311.19,304.23 L312.86,303.35 L314.59,302.85 L316.40,302.75 L317.88,302.43 L319.50,301.68 L321.22,301.05 L323.01,300.58 L324.82,299.60 L326.62,298.97 L328.38,298.26 L330.04,297.86 L331.57,297.10 L332.93,296.52 L334.09,296.35 L335.00,295.90" fill="none" stroke="#1e1e1e" stroke-width="1.05" stroke-linejoin="round"/><path d="M213.50,307.27 L214.55,306.65 L215.96,306.60 L217.64,306.08 L219.50,305.95 L221.44,305.37 L223.37,304.76 L225.19,304.32 L226.80,303.81 L228.70,303.64 L230.49,303.17 L232.19,302.64 L233.85,302.29 L235.51,301.71 L237.20,301.26 L238.95,299.96 L240.72,299.35 L242.49,297.83 L244.23,296.66 L245.91,295.41 L247.50,294.60 L249.30,293.46 L251.01,292.19 L252.64,291.16 L254.20,290.55 L255.70,290.21 L257.41,289.90 L258.96,290.50 L260.53,291.41 L262.30,292.18 L263.98,293.22 L265.84,294.73 L267.75,296.68 L269.58,298.28 L271.20,299.88 L273.21,301.65 L274.89,302.88 L277.00,304.61 L278.36,305.70 L279.84,306.78 L281.43,308.25 L283.13,309.51 L284.92,310.67 L286.80,311.35 L288.27,312.53 L289.81,313.06 L291.40,314.00 L293.04,315.02 L294.74,315.41 L296.48,316.06 L298.27,317.01 L300.10,316.98 L301.60,317.10 L303.13,317.23 L304.70,317.18 L306.29,316.58 L307.92,316.51 L309.57,316.23 L311.25,315.86 L312.94,315.24 L314.66,314.98 L316.40,314.67 L317.93,313.82 L319.58,313.30 L321.32,312.34 L323.12,311.66 L324.93,311.10 L326.72,309.95 L328.45,309.61 L330.09,308.85 L331.60,307.64 L332.95,307.51 L334.09,306.63 L335.00,306.30" fill="none" stroke="#1e1e1e" stroke-width="1.05" stroke-linejoin="round"/><path d="M213.50,322.76 L214.54,322.47 L215.92,321.83 L217.57,321.62 L219.41,321.12 L221.33,320.69 L223.26,319.83 L225.11,319.58 L226.80,319.18 L228.59,318.42 L230.35,317.74 L232.08,316.87 L233.79,316.46 L235.46,315.72 L237.10,315.25 L238.70,314.51 L240.54,313.49 L242.36,312.21 L244.13,311.39 L245.84,310.32 L247.47,309.09 L249.00,308.73 L251.09,307.70 L252.97,306.71 L254.72,306.76 L256.40,306.08 L258.37,306.29 L260.17,307.03 L262.30,307.86 L263.94,308.63 L265.79,309.70 L267.72,310.71 L269.57,311.75 L271.20,312.71 L273.21,314.13 L274.89,315.95 L277.00,317.55 L278.34,318.34 L279.79,319.43 L281.34,320.22 L283.01,321.19 L284.83,322.27 L286.80,323.52 L288.22,323.67 L289.75,324.65 L291.36,325.21 L293.03,326.23 L294.75,326.65 L296.48,327.24 L298.22,327.80 L299.93,328.28 L301.60,328.66 L303.22,328.52 L304.82,328.82 L306.39,328.27 L307.97,328.18 L309.56,327.80 L311.19,327.46 L312.86,327.45 L314.59,326.95 L316.40,326.11 L317.88,325.66 L319.50,325.23 L321.22,324.79 L323.01,324.13 L324.82,323.36 L326.62,322.52 L328.38,321.51 L330.04,320.95 L331.57,320.17 L332.93,319.78 L334.09,319.32 L335.00,318.90" fill="none" stroke="#1e1e1e" stroke-width="1.05" stroke-linejoin="round"/><path d="M213.80,338.02 L214.80,337.84 L216.11,337.88 L217.67,337.11 L219.42,337.22 L221.29,336.88 L223.21,336.50 L225.13,335.75 L226.98,335.43 L228.69,335.04 L230.20,334.68 L232.10,334.35 L233.85,333.63 L235.49,332.86 L237.05,332.64 L238.56,331.85 L240.07,331.35 L241.60,330.84 L243.41,329.67 L245.20,329.34 L246.96,328.47 L248.68,327.59 L250.37,326.90 L252.00,326.28 L253.85,325.52 L255.60,325.20 L257.31,324.51 L259.05,324.54 L260.90,324.59 L262.58,324.63 L264.38,325.04 L266.21,325.73 L268.01,326.21 L269.70,326.29 L271.20,327.18 L272.91,327.69 L274.20,327.93 L275.57,328.85 L277.50,329.84 L278.78,330.48 L280.22,331.62 L281.79,332.83 L283.44,333.48 L285.15,334.84 L286.87,335.72 L288.56,336.30 L290.20,337.51 L291.78,338.06 L293.35,338.93 L294.92,339.44 L296.49,340.04 L298.07,340.31 L299.68,341.00 L301.32,341.38 L303.00,341.52 L304.52,341.31 L306.05,341.46 L307.60,341.17 L309.16,340.74 L310.76,340.43 L312.38,340.12 L314.04,339.81 L315.75,339.36 L317.50,339.10 L319.04,338.77 L320.74,338.13 L322.53,337.44 L324.38,336.90 L326.24,336.00 L328.06,335.39 L329.80,334.89 L331.41,334.04 L332.84,333.34 L334.06,333.30 L335.00,332.70" fill="none" stroke="#1e1e1e" stroke-width="1.05" stroke-linejoin="round"/><path d="M213.80,355.23 L214.78,354.77 L216.06,354.44 L217.57,354.15 L219.27,353.75 L221.09,353.06 L222.98,352.44 L224.90,352.07 L226.77,351.94 L228.56,351.10 L230.20,350.88 L231.92,350.29 L233.64,349.89 L235.34,349.46 L237.02,349.20 L238.66,348.67 L240.27,348.19 L241.84,347.85 L243.35,347.50 L244.80,347.29 L246.57,346.50 L248.24,345.92 L249.82,345.61 L251.35,345.03 L252.82,344.68 L254.27,343.82 L255.70,343.64 L257.34,343.26 L258.94,342.72 L260.48,343.02 L261.97,342.39 L263.41,342.20 L264.80,342.38 L266.56,342.27 L268.06,342.76 L269.72,343.00 L272.00,343.47 L273.26,343.79 L274.61,344.60 L276.05,344.79 L277.59,345.60 L279.21,345.94 L280.93,346.77 L282.73,346.95 L284.62,347.49 L286.60,348.06 L287.95,348.77 L289.40,349.08 L290.93,349.37 L292.51,349.70 L294.15,350.54 L295.82,351.20 L297.50,351.46 L299.18,351.57 L300.85,352.03 L302.49,352.46 L304.07,352.85 L305.60,353.06 L307.05,353.29 L308.40,353.79 L310.35,354.01 L312.18,353.52 L313.90,353.80 L315.53,353.20 L317.08,353.02 L318.59,352.65 L320.07,352.18 L321.53,351.13 L323.00,350.78 L324.71,350.30 L326.46,349.69 L328.22,348.27 L329.91,347.45 L331.49,346.86 L332.90,345.58 L334.09,345.04 L335.00,344.60" fill="none" stroke="#1e1e1e" stroke-width="1.05" stroke-linejoin="round"/><path d="M213.80,373.20 L214.77,373.24 L216.00,373.17 L217.46,372.45 L219.09,372.50 L220.86,372.18 L222.72,371.91 L224.63,371.41 L226.54,371.29 L228.41,370.63 L230.20,370.35 L231.67,369.99 L233.17,370.06 L234.71,369.62 L236.27,369.23 L237.84,368.90 L239.41,368.97 L240.98,368.64 L242.53,368.44 L244.06,367.98 L245.55,367.79 L247.00,367.34 L248.40,367.43 L250.21,366.69 L251.99,366.62 L253.74,366.46 L255.44,366.08 L257.09,365.41 L258.68,365.19 L260.20,365.28 L261.64,364.90 L263.00,364.83 L264.72,364.54 L266.07,364.04 L267.27,364.11 L268.53,363.87 L270.03,363.57 L272.00,363.62 L273.19,363.50 L274.50,363.77 L275.90,364.21 L277.39,363.83 L278.93,364.25 L280.53,364.14 L282.15,364.30 L283.79,364.82 L285.43,364.77 L287.06,364.85 L288.65,365.10 L290.20,365.59 L291.74,365.75 L293.32,365.63 L294.92,366.00 L296.54,366.70 L298.15,366.51 L299.76,366.97 L301.33,367.14 L302.87,367.61 L304.36,367.73 L305.79,368.05 L307.14,368.07 L308.40,368.01 L310.36,368.21 L312.10,368.31 L313.68,368.86 L315.14,368.50 L316.53,368.46 L317.90,368.98 L319.30,368.42 L320.95,368.65 L322.56,367.90 L324.12,367.79 L325.62,367.23 L327.05,367.13 L328.40,366.47 L330.38,365.42 L332.27,364.17 L333.87,362.99 L335.00,361.90" fill="none" stroke="#1e1e1e" stroke-width="1.05" stroke-linejoin="round"/><path d="M213.80,387.81 L214.77,387.71 L216.00,387.28 L217.46,386.68 L219.09,386.67 L220.86,386.05 L222.72,385.69 L224.63,384.84 L226.54,384.56 L228.41,384.07 L230.20,383.84 L231.65,383.15 L233.13,383.02 L234.62,382.82 L236.13,382.30 L237.66,382.32 L239.19,382.17 L240.73,381.73 L242.27,381.62 L243.81,381.36 L245.35,380.89 L246.88,380.74 L248.40,380.90 L249.94,380.28 L251.52,380.12 L253.13,379.70 L254.76,379.57 L256.38,379.33 L257.99,379.60 L259.57,379.28 L261.11,379.19 L262.60,379.08 L264.02,378.68 L265.36,378.71 L266.60,378.32 L268.75,377.98 L270.54,378.07 L272.11,377.84 L273.61,377.68 L275.19,377.21 L277.00,377.16 L278.48,376.76 L279.99,376.92 L281.53,376.68 L283.11,376.10 L284.76,376.29 L286.48,375.65 L288.29,375.42 L290.20,375.63 L291.56,375.28 L293.01,375.34 L294.52,375.34 L296.10,374.91 L297.70,375.28 L299.32,374.93 L300.95,374.97 L302.55,374.85 L304.11,375.02 L305.62,374.94 L307.06,374.58 L308.40,374.36 L310.29,374.31 L312.10,374.21 L313.82,373.83 L315.45,373.67 L317.00,373.82 L318.48,373.53 L319.88,373.41 L321.20,373.09 L323.11,372.44 L324.77,371.48 L326.25,370.61 L327.64,369.86 L329.00,368.98 L330.77,367.41 L332.49,365.49 L333.96,363.57 L335.00,362.40" fill="none" stroke="#1e1e1e" stroke-width="1.05" stroke-linejoin="round"/><path d="M213.80,403.91 L214.77,403.27 L216.00,402.97 L217.46,402.74 L219.09,402.15 L220.86,401.27 L222.72,400.65 L224.63,400.42 L226.54,399.40 L228.41,398.99 L230.20,398.82 L231.65,398.54 L233.13,398.06 L234.62,397.76 L236.13,397.65 L237.66,397.80 L239.19,397.44 L240.73,397.59 L242.27,397.31 L243.81,397.27 L245.35,396.55 L246.88,396.48 L248.40,396.21 L249.94,396.29 L251.52,396.06 L253.13,395.73 L254.76,395.86 L256.38,395.43 L257.99,395.41 L259.57,395.21 L261.11,395.39 L262.60,395.01 L264.02,394.76 L265.36,394.48 L266.60,394.56 L268.75,394.38 L270.54,394.13 L272.11,394.00 L273.61,393.65 L275.19,393.00 L277.00,392.58 L278.51,392.65 L280.07,392.33 L281.68,391.81 L283.34,391.63 L285.02,391.10 L286.74,390.58 L288.46,390.19 L290.20,389.81 L291.77,389.99 L293.39,390.01 L295.03,389.91 L296.70,389.57 L298.36,389.60 L300.02,389.63 L301.66,389.39 L303.25,389.01 L304.80,388.55 L306.45,388.14 L308.00,387.42 L309.49,386.86 L310.97,386.52 L312.47,385.97 L314.03,384.87 L315.70,383.83 L317.50,382.71 L318.98,381.82 L320.63,380.91 L322.40,379.44 L324.25,378.40 L326.12,376.53 L327.96,375.24 L329.72,374.02 L331.36,372.70 L332.82,371.85 L334.05,370.91 L335.00,370.00" fill="none" stroke="#1e1e1e" stroke-width="1.05" stroke-linejoin="round"/><path d="M381.50,232.46 L382.79,232.83 L384.64,233.28 L386.77,234.48 L388.90,235.23 L390.54,235.71 L392.21,236.09 L393.96,236.81 L395.81,237.33 L397.80,237.16 L399.31,237.69 L400.87,237.68 L402.50,237.91 L404.18,238.23 L405.93,238.29 L407.73,238.04 L409.60,237.62 L411.13,237.84 L412.74,237.09 L414.42,236.84 L416.13,236.70 L417.86,235.95 L419.57,235.47 L421.25,235.44 L422.87,235.03 L424.40,234.29 L426.28,233.92 L428.10,233.45 L429.87,232.98 L431.58,232.68 L433.22,232.78 L434.79,231.93 L436.30,231.74 L438.25,231.40 L440.03,231.09 L441.70,231.15 L443.34,231.08 L445.00,230.90 L446.56,230.45 L447.96,230.17 L449.42,229.30 L451.13,229.18 L453.30,229.48 L454.61,228.96 L456.07,229.13 L457.65,229.35 L459.32,229.34 L461.04,229.65 L462.80,229.53 L464.57,229.84 L466.31,230.49 L467.99,230.23 L469.60,230.94 L471.33,230.81 L473.05,231.64 L474.75,231.82 L476.44,232.20 L478.10,232.32 L479.74,232.71 L481.33,233.59 L482.89,233.72 L484.40,234.21 L486.30,235.25 L488.16,235.98 L489.98,236.22 L491.72,237.52 L493.36,238.04 L494.90,238.74 L496.30,239.36 L498.50,241.10 L500.39,243.17 L501.92,244.29 L503.00,245.50" fill="none" stroke="#1e1e1e" stroke-width="1.05" stroke-linejoin="round"/><path d="M381.50,247.98 L382.60,248.12 L384.11,248.32 L385.91,248.70 L387.87,249.26 L389.87,248.91 L391.80,249.02 L393.40,249.41 L395.04,249.34 L396.71,249.18 L398.42,248.53 L400.15,248.35 L401.91,248.41 L403.70,247.79 L405.31,247.56 L406.96,246.91 L408.65,246.26 L410.35,245.96 L412.05,245.69 L413.74,245.20 L415.39,244.59 L417.00,244.08 L418.80,243.65 L420.59,243.13 L422.36,242.74 L424.09,242.49 L425.77,241.70 L427.37,241.54 L428.90,241.36 L430.88,240.76 L432.72,239.79 L434.44,239.75 L436.09,239.29 L437.70,238.70 L439.57,238.84 L441.29,239.15 L443.03,239.57 L445.00,240.69 L446.43,240.73 L447.90,241.43 L449.43,241.43 L451.07,241.87 L452.85,242.93 L454.80,243.48 L456.22,244.02 L457.75,244.28 L459.36,244.64 L461.03,245.27 L462.75,245.37 L464.48,246.16 L466.22,246.64 L467.93,247.02 L469.60,247.86 L471.26,248.29 L472.94,249.03 L474.64,249.61 L476.34,250.26 L478.02,250.96 L479.68,251.79 L481.31,252.70 L482.88,253.33 L484.40,253.92 L486.30,254.69 L488.16,255.13 L489.98,256.31 L491.72,256.63 L493.36,257.27 L494.90,258.21 L496.30,259.04 L498.50,260.06 L500.39,261.51 L501.92,262.40 L503.00,263.30" fill="none" stroke="#1e1e1e" stroke-width="1.05" stroke-linejoin="round"/><path d="M381.50,260.58 L382.52,260.06 L383.85,259.80 L385.45,259.51 L387.22,259.36 L389.12,259.02 L391.06,258.32 L392.97,257.82 L394.80,257.47 L396.40,256.70 L398.07,256.43 L399.79,256.17 L401.52,255.59 L403.24,254.61 L404.94,254.55 L406.58,253.75 L408.14,253.63 L409.60,252.82 L411.64,252.14 L413.56,251.80 L415.36,251.51 L417.03,250.78 L418.58,250.62 L420.00,250.13 L422.24,249.08 L423.99,248.32 L425.90,248.20 L427.54,248.38 L429.24,248.89 L431.11,249.83 L433.30,250.93 L434.79,251.45 L436.47,252.03 L438.27,253.01 L440.10,254.07 L441.89,255.15 L443.55,255.70 L445.00,256.35 L446.79,257.27 L448.02,257.71 L449.44,257.98 L451.80,258.92 L453.02,259.47 L454.41,259.58 L455.94,260.06 L457.59,260.49 L459.32,260.89 L461.09,261.34 L462.89,261.48 L464.66,262.06 L466.40,262.16 L468.05,263.07 L469.60,263.23 L471.36,263.85 L473.02,264.69 L474.61,264.93 L476.18,265.49 L477.73,266.50 L479.30,267.01 L480.91,267.37 L482.61,268.02 L484.40,268.91 L485.88,269.26 L487.50,270.37 L489.22,270.63 L491.01,271.36 L492.82,272.11 L494.62,272.86 L496.38,273.47 L498.04,274.21 L499.57,274.81 L500.93,275.19 L502.09,275.42 L503.00,276.00" fill="none" stroke="#1e1e1e" stroke-width="1.05" stroke-linejoin="round"/><path d="M381.50,273.19 L382.52,272.74 L383.85,272.02 L385.45,271.81 L387.22,271.53 L389.12,271.16 L391.06,270.06 L392.97,269.47 L394.80,269.19 L396.41,268.63 L398.10,268.35 L399.84,267.72 L401.60,266.81 L403.34,266.24 L405.05,265.73 L406.68,265.31 L408.21,264.34 L409.60,263.94 L411.83,262.88 L413.80,262.39 L415.55,261.26 L417.10,261.13 L418.50,260.31 L420.88,259.28 L422.90,258.65 L424.19,258.93 L425.53,259.48 L427.06,260.37 L428.90,261.12 L430.42,261.85 L432.18,263.37 L434.06,264.40 L435.94,265.57 L437.69,266.54 L439.20,267.58 L441.32,269.33 L442.94,269.94 L445.00,271.42 L446.34,272.29 L447.79,273.05 L449.34,274.26 L451.01,275.30 L452.83,276.15 L454.80,276.84 L456.22,276.94 L457.75,277.21 L459.36,277.74 L461.03,277.95 L462.75,278.15 L464.48,278.83 L466.22,278.72 L467.93,279.41 L469.60,279.86 L471.22,279.79 L472.82,280.68 L474.39,280.81 L475.97,281.16 L477.56,281.63 L479.19,282.05 L480.86,282.87 L482.59,283.39 L484.40,284.31 L485.88,284.84 L487.50,284.99 L489.22,285.86 L491.01,286.56 L492.82,287.16 L494.62,287.93 L496.38,288.65 L498.04,289.59 L499.57,290.01 L500.93,290.43 L502.09,290.97 L503.00,291.50" fill="none" stroke="#1e1e1e" stroke-width="1.05" stroke-linejoin="round"/><path d="M381.50,284.77 L382.52,284.63 L383.85,284.19 L385.45,284.17 L387.22,283.54 L389.12,283.42 L391.06,282.94 L392.97,282.17 L394.80,281.95 L396.41,281.15 L398.11,280.54 L399.87,279.82 L401.64,279.03 L403.39,278.10 L405.10,277.05 L406.73,276.71 L408.24,276.04 L409.60,275.19 L411.69,274.24 L413.43,273.12 L414.95,272.71 L416.37,271.97 L417.80,271.33 L419.44,271.56 L420.87,271.85 L422.41,272.00 L424.40,273.30 L425.85,273.76 L427.51,274.57 L429.30,276.04 L431.15,277.02 L432.98,278.46 L434.72,279.49 L436.30,280.16 L438.23,281.50 L439.96,282.60 L441.59,283.20 L443.24,284.08 L445.00,285.22 L446.51,285.89 L448.00,286.91 L449.52,288.00 L451.12,289.15 L452.86,289.72 L454.80,290.46 L456.22,291.30 L457.75,291.57 L459.36,291.76 L461.03,292.42 L462.75,292.70 L464.48,292.77 L466.22,293.33 L467.93,293.55 L469.60,293.85 L471.22,293.93 L472.82,294.11 L474.39,294.85 L475.97,295.23 L477.56,295.37 L479.19,295.85 L480.86,296.36 L482.59,296.67 L484.40,297.52 L485.88,297.95 L487.50,298.44 L489.22,298.93 L491.01,299.90 L492.82,300.49 L494.62,301.47 L496.38,301.86 L498.04,302.68 L499.57,303.20 L500.93,303.90 L502.09,304.48 L503.00,304.80" fill="none" stroke="#1e1e1e" stroke-width="1.05" stroke-linejoin="round"/><path d="M381.50,304.16 L382.52,303.83 L383.85,303.70 L385.45,303.07 L387.22,302.73 L389.12,301.96 L391.06,301.34 L392.97,301.01 L394.80,300.65 L396.40,300.10 L398.07,299.35 L399.79,298.72 L401.52,297.95 L403.24,297.50 L404.94,296.93 L406.58,296.70 L408.14,295.59 L409.60,295.47 L411.61,294.13 L413.45,292.89 L415.17,291.54 L416.81,290.84 L418.40,289.50 L420.00,289.24 L421.85,289.20 L423.60,289.47 L425.31,290.24 L427.05,291.61 L428.90,292.37 L430.51,293.07 L432.14,293.99 L433.82,294.38 L435.54,295.66 L437.33,296.62 L439.20,297.24 L440.63,298.10 L442.07,299.20 L443.53,299.62 L445.03,300.69 L446.59,301.13 L448.23,302.17 L449.96,302.60 L451.80,303.31 L453.23,303.56 L454.76,304.13 L456.36,304.27 L458.02,304.31 L459.71,304.58 L461.42,304.56 L463.13,304.93 L464.82,304.75 L466.48,305.09 L468.07,305.31 L469.60,305.43 L471.36,305.56 L473.02,305.99 L474.61,306.65 L476.18,306.79 L477.73,307.53 L479.30,307.80 L480.91,308.52 L482.61,308.92 L484.40,309.34 L485.88,309.52 L487.50,309.77 L489.22,310.55 L491.01,311.16 L492.82,311.78 L494.62,311.85 L496.38,312.32 L498.04,313.28 L499.57,313.57 L500.93,313.81 L502.09,314.29 L503.00,314.40" fill="none" stroke="#1e1e1e" stroke-width="1.05" stroke-linejoin="round"/><path d="M381.50,318.69 L382.52,318.71 L383.85,318.53 L385.45,318.18 L387.22,317.57 L389.12,317.15 L391.06,317.00 L392.97,316.66 L394.80,315.68 L396.38,315.07 L397.99,314.53 L399.62,314.31 L401.27,313.39 L402.94,312.73 L404.61,312.35 L406.28,311.41 L407.95,310.52 L409.60,310.12 L411.29,309.02 L413.03,308.45 L414.81,307.93 L416.58,306.84 L418.33,306.03 L420.01,305.66 L421.61,304.98 L423.08,304.94 L424.40,304.16 L426.75,304.65 L428.51,305.10 L430.07,306.31 L431.80,306.97 L433.38,307.66 L434.99,308.03 L436.63,308.57 L438.30,309.32 L440.00,310.18 L441.55,310.59 L442.94,311.23 L444.46,312.09 L446.35,312.66 L448.90,313.59 L450.12,314.06 L451.49,314.37 L452.99,314.74 L454.59,314.90 L456.27,315.09 L458.00,315.44 L459.76,315.98 L461.53,316.24 L463.28,316.82 L464.98,316.98 L466.62,317.61 L468.17,317.84 L469.60,318.20 L471.48,318.67 L473.21,318.95 L474.83,319.29 L476.37,319.60 L477.89,319.83 L479.40,320.66 L480.97,320.89 L482.62,321.09 L484.40,322.06 L485.88,322.25 L487.50,322.71 L489.22,323.08 L491.01,323.39 L492.82,324.42 L494.62,324.43 L496.38,325.05 L498.04,325.90 L499.57,325.80 L500.93,326.42 L502.09,326.73 L503.00,327.00" fill="none" stroke="#1e1e1e" stroke-width="1.05" stroke-linejoin="round"/><path d="M381.80,336.05 L382.74,336.35 L383.96,335.94 L385.41,335.58 L387.04,335.70 L388.79,335.22 L390.60,335.36 L392.42,335.09 L394.20,334.64 L395.61,333.66 L397.07,333.48 L398.57,332.63 L400.10,332.05 L401.66,331.23 L403.23,330.49 L404.82,329.64 L406.41,329.19 L408.01,328.14 L409.60,327.98 L411.22,326.73 L412.90,326.54 L414.61,325.30 L416.34,324.45 L418.06,324.08 L419.76,323.23 L421.42,322.70 L423.00,321.96 L424.50,321.54 L425.90,320.85 L427.99,320.90 L429.87,320.80 L431.57,321.26 L433.18,320.99 L434.73,321.33 L436.30,321.91 L438.13,322.21 L439.85,322.07 L441.52,322.41 L443.22,322.48 L445.00,322.53 L446.51,322.67 L448.00,322.79 L449.52,322.49 L451.12,322.73 L452.86,323.15 L454.80,323.15 L456.22,323.56 L457.75,323.77 L459.36,324.23 L461.03,324.83 L462.75,325.34 L464.48,325.93 L466.22,326.11 L467.93,326.39 L469.60,326.90 L471.28,327.15 L473.00,327.68 L474.75,328.31 L476.50,328.75 L478.23,328.95 L479.90,329.33 L481.51,329.68 L483.01,330.13 L484.40,330.70 L486.54,331.18 L488.35,332.12 L489.97,332.48 L491.56,332.93 L493.30,333.66 L494.98,334.12 L496.83,335.34 L498.71,336.19 L500.46,336.76 L501.94,337.65 L503.00,338.00" fill="none" stroke="#1e1e1e" stroke-width="1.05" stroke-linejoin="round"/><path d="M381.80,352.06 L382.76,351.99 L384.00,351.96 L385.48,351.90 L387.13,352.09 L388.91,352.05 L390.76,352.03 L392.63,351.55 L394.46,351.82 L396.20,351.49 L397.80,351.23 L399.47,351.04 L401.11,350.69 L402.73,350.22 L404.33,349.96 L405.91,349.72 L407.47,349.33 L409.00,349.00 L410.51,348.10 L412.00,348.03 L413.62,347.39 L415.18,346.69 L416.70,346.16 L418.20,344.94 L419.70,344.60 L421.22,343.96 L422.78,342.81 L424.40,342.46 L425.94,342.12 L427.58,341.18 L429.29,340.98 L431.02,340.48 L432.73,339.68 L434.38,339.02 L435.93,338.61 L437.35,338.57 L438.60,337.95 L440.68,337.26 L442.11,336.90 L443.39,336.85 L445.00,336.05 L446.33,335.60 L447.74,335.85 L449.23,335.15 L450.79,334.89 L452.45,334.95 L454.20,334.27 L455.60,333.94 L457.07,334.17 L458.61,333.53 L460.19,333.28 L461.80,333.51 L463.42,332.96 L465.02,333.34 L466.60,333.10 L468.17,333.29 L469.76,333.53 L471.36,334.09 L472.96,334.55 L474.55,334.99 L476.11,335.66 L477.63,336.22 L479.10,337.30 L480.69,338.40 L482.19,339.54 L483.63,340.95 L485.07,341.92 L486.53,343.42 L488.06,344.70 L489.70,345.79 L491.32,347.15 L493.15,347.95 L495.07,348.73 L497.01,349.24 L498.87,349.63 L500.55,350.39 L501.96,350.65 L503.00,351.30" fill="none" stroke="#1e1e1e" stroke-width="1.05" stroke-linejoin="round"/><path d="M381.80,366.64 L382.76,366.32 L384.00,366.41 L385.48,366.90 L387.13,366.56 L388.91,367.10 L390.76,366.85 L392.63,367.17 L394.46,366.93 L396.20,367.48 L397.80,367.24 L399.47,367.26 L401.11,367.49 L402.73,367.49 L404.33,367.31 L405.91,367.25 L407.47,367.51 L409.00,367.15 L410.51,367.61 L412.00,367.21 L413.62,366.97 L415.18,366.89 L416.70,366.56 L418.20,366.45 L419.70,366.34 L421.22,365.99 L422.78,365.68 L424.40,365.37 L425.94,365.24 L427.58,365.14 L429.29,364.64 L431.02,364.54 L432.73,364.07 L434.38,363.55 L435.93,363.28 L437.35,363.39 L438.60,362.89 L440.60,362.36 L441.89,362.07 L443.13,361.74 L445.00,360.53 L446.28,359.83 L447.72,359.02 L449.27,357.90 L450.91,357.23 L452.62,356.17 L454.35,355.13 L456.09,354.07 L457.80,353.08 L459.35,352.34 L460.96,351.08 L462.63,350.60 L464.31,349.11 L465.98,348.60 L467.61,347.26 L469.17,346.77 L470.65,345.65 L472.00,344.85 L474.15,343.99 L476.03,343.16 L477.72,342.35 L479.32,341.86 L480.90,341.79 L482.80,341.64 L484.56,342.79 L486.27,344.02 L488.00,346.15 L489.76,348.27 L491.50,351.28 L493.27,354.23 L495.10,356.90 L496.76,358.46 L498.58,360.26 L500.37,361.57 L501.91,362.54 L503.00,363.70" fill="none" stroke="#1e1e1e" stroke-width="1.05" stroke-linejoin="round"/><path d="M381.80,379.63 L382.74,379.17 L383.95,379.17 L385.37,379.63 L386.97,379.31 L388.69,379.55 L390.51,379.20 L392.37,379.34 L394.24,379.69 L396.06,379.34 L397.80,379.71 L399.36,380.06 L400.96,379.76 L402.60,380.20 L404.26,380.39 L405.93,380.49 L407.60,380.75 L409.25,380.88 L410.88,380.62 L412.47,380.85 L414.02,381.16 L415.50,381.48 L417.25,381.07 L418.97,381.30 L420.64,381.01 L422.27,381.40 L423.85,381.09 L425.39,381.04 L426.87,381.01 L428.31,380.55 L429.70,380.74 L431.56,380.51 L433.14,380.26 L434.62,379.58 L436.16,379.11 L437.89,378.52 L440.00,378.24 L441.35,377.50 L442.83,376.97 L444.41,376.50 L446.07,376.02 L447.79,375.17 L449.53,374.53 L451.28,374.10 L453.00,373.38 L454.68,372.35 L456.29,371.44 L457.80,371.16 L459.56,369.99 L461.30,368.75 L463.00,367.41 L464.65,366.47 L466.25,364.86 L467.79,363.46 L469.27,362.17 L470.67,361.16 L472.00,360.26 L474.19,358.38 L476.16,357.10 L477.92,355.45 L479.49,354.07 L480.90,353.20 L483.27,351.82 L485.30,351.77 L486.74,352.00 L488.34,352.56 L489.97,353.47 L491.50,355.10 L493.30,357.83 L495.00,362.12 L496.80,365.38 L498.43,367.90 L500.23,369.46 L501.86,371.40 L503.00,372.60" fill="none" stroke="#1e1e1e" stroke-width="1.05" stroke-linejoin="round"/><path d="M381.80,393.07 L382.78,393.23 L384.09,392.94 L385.65,392.99 L387.39,392.92 L389.25,393.19 L391.15,393.21 L393.03,392.87 L394.80,392.96 L396.42,392.96 L397.80,393.37 L399.88,392.92 L401.41,392.76 L402.78,392.35 L404.38,392.38 L406.60,392.39 L407.91,392.32 L409.38,391.96 L411.00,392.28 L412.71,392.39 L414.48,392.22 L416.28,392.77 L418.07,392.60 L419.81,392.69 L421.47,392.99 L423.01,393.07 L424.40,393.10 L426.35,393.45 L428.14,393.39 L429.79,393.44 L431.29,393.41 L432.67,393.82 L433.94,393.79 L435.10,393.92 L436.69,393.80 L437.63,393.40 L440.00,392.82 L441.15,392.64 L442.50,392.31 L444.02,392.45 L445.67,391.93 L447.42,391.35 L449.23,391.22 L451.05,390.73 L452.86,389.92 L454.61,389.83 L456.27,388.99 L457.80,388.90 L459.56,387.64 L461.30,386.91 L463.00,386.01 L464.65,385.45 L466.25,384.48 L467.79,383.38 L469.27,382.17 L470.67,381.43 L472.00,380.72 L474.16,378.77 L476.07,377.69 L477.79,376.12 L479.38,374.83 L480.90,373.62 L482.60,372.64 L484.06,372.27 L485.49,371.57 L487.10,371.58 L488.59,371.68 L490.18,372.14 L491.82,373.10 L493.48,373.38 L495.10,374.55 L496.81,375.32 L498.65,376.81 L500.41,377.99 L501.93,379.05 L503.00,379.70" fill="none" stroke="#1e1e1e" stroke-width="1.05" stroke-linejoin="round"/><path d="M281.00,224.00 C279.50,226.00 275.00,231.67 272.00,236.00 C269.00,240.33 265.58,245.33 263.00,250.00 C260.42,254.67 257.92,259.33 256.50,264.00 C255.08,268.67 254.58,272.50 254.50,278.00 C254.42,283.50 255.00,290.33 256.00,297.00 C257.00,303.67 258.83,311.17 260.50,318.00 C262.17,324.83 264.00,332.00 266.00,338.00 C268.00,344.00 271.42,351.33 272.50,354.00" fill="none" stroke="#5069bd" stroke-width="1.2" stroke-dasharray="4.5 3.6"/><path d="M446.50,233.00 C445.08,234.33 440.75,238.00 438.00,241.00 C435.25,244.00 432.42,246.83 430.00,251.00 C427.58,255.17 425.17,260.33 423.50,266.00 C421.83,271.67 420.17,278.50 420.00,285.00 C419.83,291.50 420.58,298.17 422.50,305.00 C424.42,311.83 428.58,320.67 431.50,326.00 C434.42,331.33 437.00,333.67 440.00,337.00 C443.00,340.33 447.92,344.50 449.50,346.00" fill="none" stroke="#5069bd" stroke-width="1.2" stroke-dasharray="4.5 3.6"/><text x="288.6" y="222" font-size="10.3" text-anchor="start" font-weight="normal" fill="#231f20" >E<tspan font-size="6.2" dy="2.4">v</tspan><tspan dy="-2.4"> @ </tspan></text><text x="315" y="222" font-size="10.3" text-anchor="start" font-weight="normal" fill="#231f20" >M</text><line x1="315.2" y1="213.4" x2="322.6" y2="213.4" stroke="#231f20" stroke-width="0.9" /><text x="463" y="224.2" font-size="10.3" text-anchor="start" font-weight="normal" fill="#231f20" >E<tspan font-size="6.2" dy="2.4">v</tspan><tspan dy="-2.4"> @ </tspan></text><text x="489.5" y="224.2" font-size="10.3" text-anchor="start" font-weight="normal" fill="#231f20" >Γ</text><line x1="489.6" y1="214.1" x2="496.2" y2="214.1" stroke="#231f20" stroke-width="0.9" /><text x="514.8" y="207.0" font-size="10.5" text-anchor="start" font-weight="bold" fill="#231f20" >e</text><path d="M555.5,210.5 H683.5 V406.4 H555.5 Z" fill="none" stroke="#2e2e2e" stroke-width="1.0"/><line x1="551.5" y1="406.2" x2="555.5" y2="406.2" stroke="#3a3a3a" stroke-width="1" /><line x1="553.5" y1="369.825" x2="555.5" y2="369.825" stroke="#3a3a3a" stroke-width="1" /><line x1="551.5" y1="333.45" x2="555.5" y2="333.45" stroke="#3a3a3a" stroke-width="1" /><line x1="553.5" y1="297.075" x2="555.5" y2="297.075" stroke="#3a3a3a" stroke-width="1" /><line x1="551.5" y1="260.7" x2="555.5" y2="260.7" stroke="#3a3a3a" stroke-width="1" /><line x1="553.5" y1="224.325" x2="555.5" y2="224.325" stroke="#3a3a3a" stroke-width="1" /><text x="546.8" y="409.7" font-size="10" text-anchor="end" font-weight="normal" fill="#231f20" >0</text><text x="546.8" y="336.95" font-size="10" text-anchor="end" font-weight="normal" fill="#231f20" >50</text><text x="546.8" y="264.2" font-size="10" text-anchor="end" font-weight="normal" fill="#231f20" >100</text><line x1="568.5" y1="406.4" x2="568.5" y2="409.79999999999995" stroke="#3a3a3a" stroke-width="1" /><line x1="589.4" y1="406.4" x2="589.4" y2="408.2" stroke="#3a3a3a" stroke-width="1" /><line x1="610.3" y1="406.4" x2="610.3" y2="409.79999999999995" stroke="#3a3a3a" stroke-width="1" /><line x1="631.2" y1="406.4" x2="631.2" y2="408.2" stroke="#3a3a3a" stroke-width="1" /><line x1="652.1" y1="406.4" x2="652.1" y2="409.79999999999995" stroke="#3a3a3a" stroke-width="1" /><line x1="673.0" y1="406.4" x2="673.0" y2="408.2" stroke="#3a3a3a" stroke-width="1" /><text x="568.5" y="422" font-size="10" text-anchor="middle" font-weight="normal" fill="#231f20" >0</text><text x="610.3" y="422" font-size="10" text-anchor="middle" font-weight="normal" fill="#231f20" >50</text><text x="652.1" y="422" font-size="10" text-anchor="middle" font-weight="normal" fill="#231f20" >100</text><text x="615.4" y="435.2" font-size="10" text-anchor="middle" font-weight="normal" fill="#231f20" >Deposition Time (s)</text><text x="0" y="0" font-size="10" text-anchor="middle" font-weight="normal" fill="#231f20" transform="translate(527,308) rotate(-90)">Gap (meV)</text><g clip-path="url(#eclip)"><line x1="592.4932" y1="235.67399999999998" x2="592.4932" y2="270.7395" stroke="#4a72b8" stroke-width="1" /><line x1="589.8932" y1="235.67399999999998" x2="595.0932" y2="235.67399999999998" stroke="#4a72b8" stroke-width="1" /><line x1="589.8932" y1="270.7395" x2="595.0932" y2="270.7395" stroke="#4a72b8" stroke-width="1" /><line x1="601.4384" y1="236.25599999999997" x2="601.4384" y2="271.467" stroke="#4a72b8" stroke-width="1" /><line x1="598.8384" y1="236.25599999999997" x2="604.0384" y2="236.25599999999997" stroke="#4a72b8" stroke-width="1" /><line x1="598.8384" y1="271.467" x2="604.0384" y2="271.467" stroke="#4a72b8" stroke-width="1" /><line x1="609.6312" y1="242.80349999999999" x2="609.6312" y2="277.86899999999997" stroke="#4a72b8" stroke-width="1" /><line x1="607.0312" y1="242.80349999999999" x2="612.2312000000001" y2="242.80349999999999" stroke="#4a72b8" stroke-width="1" /><line x1="607.0312" y1="277.86899999999997" x2="612.2312000000001" y2="277.86899999999997" stroke="#4a72b8" stroke-width="1" /><line x1="619.5796" y1="258.663" x2="619.5796" y2="290.964" stroke="#4a72b8" stroke-width="1" /><line x1="616.9796" y1="258.663" x2="622.1796" y2="258.663" stroke="#4a72b8" stroke-width="1" /><line x1="616.9796" y1="290.964" x2="622.1796" y2="290.964" stroke="#4a72b8" stroke-width="1" /><line x1="629.7788" y1="260.2635" x2="629.7788" y2="289.0725" stroke="#4a72b8" stroke-width="1" /><line x1="627.1788" y1="260.2635" x2="632.3788000000001" y2="260.2635" stroke="#4a72b8" stroke-width="1" /><line x1="627.1788" y1="289.0725" x2="632.3788000000001" y2="289.0725" stroke="#4a72b8" stroke-width="1" /><line x1="642.2352" y1="301.149" x2="642.2352" y2="329.95799999999997" stroke="#4a72b8" stroke-width="1" /><line x1="639.6351999999999" y1="301.149" x2="644.8352" y2="301.149" stroke="#4a72b8" stroke-width="1" /><line x1="639.6351999999999" y1="329.95799999999997" x2="644.8352" y2="329.95799999999997" stroke="#4a72b8" stroke-width="1" /><line x1="654.5244" y1="339.27" x2="654.5244" y2="365.46" stroke="#4a72b8" stroke-width="1" /><line x1="651.9244" y1="339.27" x2="657.1244" y2="339.27" stroke="#4a72b8" stroke-width="1" /><line x1="651.9244" y1="365.46" x2="657.1244" y2="365.46" stroke="#4a72b8" stroke-width="1" /><line x1="667.3987999999999" y1="396.015" x2="667.3987999999999" y2="416.385" stroke="#4a72b8" stroke-width="1" /><line x1="664.7987999999999" y1="396.015" x2="669.9988" y2="396.015" stroke="#4a72b8" stroke-width="1" /><line x1="664.7987999999999" y1="416.385" x2="669.9988" y2="416.385" stroke="#4a72b8" stroke-width="1" /></g><circle cx="592.4932" cy="252.84299999999996" r="3.3" fill="#1f4fa0"/><circle cx="601.4384" cy="253.27949999999998" r="3.3" fill="#1f4fa0"/><circle cx="609.6312" cy="260.2635" r="3.3" fill="#1f4fa0"/><circle cx="619.5796" cy="274.668" r="3.3" fill="#1f4fa0"/><circle cx="629.7788" cy="274.668" r="3.3" fill="#1f4fa0"/><circle cx="642.2352" cy="315.5535" r="3.3" fill="#1f4fa0"/><circle cx="654.5244" cy="352.2195" r="3.3" fill="#1f4fa0"/><circle cx="667.3987999999999" cy="406.2" r="3.3" fill="#1f4fa0"/></svg></body></html>
